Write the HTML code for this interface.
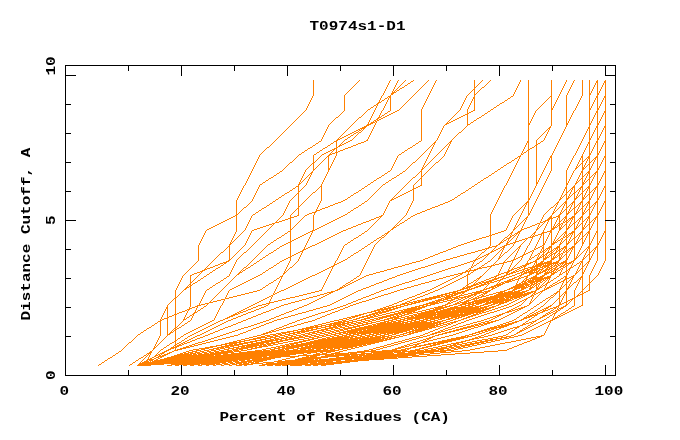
<!DOCTYPE html>
<html><head><meta charset="utf-8"><title>T0974s1-D1</title>
<style>
html,body{margin:0;padding:0;background:#fff;}
body{width:680px;height:440px;overflow:hidden;position:relative;font-family:"Liberation Mono",monospace;}
svg{position:absolute;left:0;top:0;}
.t{position:absolute;left:0;top:0;font-family:"Liberation Mono",monospace;font-weight:bold;font-size:16px;color:#000;white-space:pre;line-height:16px;height:16px;transform-origin:0 0;}
#txt{position:absolute;left:0;top:0;width:680px;height:440px;will-change:transform;}
</style></head><body>
<svg width="680" height="440" viewBox="0 0 680 440">
<rect x="0" y="0" width="680" height="440" fill="#fff"/>
<g fill="none" stroke="#ff8000" stroke-width="1" shape-rendering="crispEdges">
<path d="M313 80.5h1M359 80.5h1M390 80.5h1M398 80.5h1M405 80.5h1M413 80.5h1M428 80.5h1M436 80.5h1M474 80.5h1M482 80.5h1M490 80.5h1M520 80.5h1M528 80.5h1M551 80.5h1M566 80.5h1M574 80.5h1M582 80.5h1M589 80.5h1M597 80.5h1M605 80.5h1M313 81.5h1M358 81.5h1M389 81.5h1M397 81.5h1M404 81.5h1M411 81.5h2M427 81.5h1M435 81.5h1M474 81.5h1M481 81.5h1M489 81.5h1M520 81.5h1M528 81.5h1M551 81.5h1M566 81.5h1M573 81.5h1M582 81.5h1M589 81.5h1M596 81.5h2M604 81.5h2M313 82.5h1M357 82.5h1M389 82.5h1M397 82.5h1M403 82.5h1M410 82.5h1M426 82.5h1M435 82.5h1M474 82.5h1M480 82.5h1M488 82.5h1M519 82.5h1M528 82.5h1M551 82.5h1M565 82.5h1M573 82.5h1M582 82.5h1M589 82.5h1M596 82.5h2M604 82.5h2M313 83.5h1M356 83.5h1M388 83.5h1M396 83.5h1M402 83.5h1M408 83.5h2M425 83.5h1M434 83.5h1M474 83.5h1M479 83.5h1M487 83.5h1M519 83.5h1M528 83.5h1M551 83.5h1M565 83.5h1M572 83.5h1M582 83.5h1M589 83.5h1M595 83.5h1M597 83.5h1M603 83.5h1M605 83.5h1M313 84.5h1M355 84.5h1M388 84.5h1M396 84.5h1M401 84.5h1M407 84.5h1M424 84.5h1M434 84.5h1M474 84.5h1M478 84.5h1M486 84.5h1M518 84.5h1M528 84.5h1M551 84.5h1M564 84.5h1M572 84.5h1M582 84.5h1M589 84.5h1M595 84.5h1M597 84.5h1M603 84.5h1M605 84.5h1M313 85.5h1M354 85.5h1M387 85.5h1M395 85.5h1M400 85.5h1M405 85.5h2M423 85.5h1M433 85.5h1M474 85.5h1M477 85.5h1M485 85.5h1M518 85.5h1M528 85.5h1M551 85.5h1M564 85.5h1M571 85.5h1M582 85.5h1M589 85.5h1M594 85.5h1M597 85.5h1M602 85.5h1M605 85.5h1M313 86.5h1M353 86.5h1M387 86.5h1M395 86.5h1M399 86.5h1M404 86.5h1M422 86.5h1M433 86.5h1M474 86.5h1M476 86.5h1M484 86.5h1M517 86.5h1M528 86.5h1M551 86.5h1M563 86.5h1M571 86.5h1M582 86.5h1M589 86.5h1M594 86.5h1M597 86.5h1M602 86.5h1M605 86.5h1M313 87.5h1M352 87.5h1M386 87.5h1M394 87.5h1M398 87.5h1M402 87.5h2M421 87.5h1M432 87.5h1M474 87.5h2M482 87.5h2M517 87.5h1M528 87.5h1M551 87.5h1M563 87.5h1M570 87.5h1M582 87.5h1M589 87.5h1M593 87.5h1M597 87.5h1M601 87.5h1M605 87.5h1M313 88.5h1M351 88.5h1M386 88.5h1M394 88.5h1M397 88.5h1M400 88.5h2M420 88.5h1M432 88.5h1M474 88.5h1M481 88.5h1M516 88.5h1M528 88.5h1M551 88.5h1M562 88.5h1M570 88.5h1M582 88.5h1M589 88.5h1M593 88.5h1M597 88.5h1M601 88.5h1M605 88.5h1M313 89.5h1M350 89.5h1M385 89.5h1M393 89.5h1M396 89.5h1M399 89.5h1M419 89.5h1M431 89.5h1M473 89.5h2M480 89.5h1M516 89.5h1M528 89.5h1M551 89.5h1M562 89.5h1M569 89.5h1M582 89.5h1M589 89.5h1M592 89.5h1M597 89.5h1M600 89.5h1M605 89.5h1M313 90.5h1M349 90.5h1M385 90.5h1M393 90.5h1M395 90.5h1M397 90.5h2M418 90.5h1M431 90.5h1M472 90.5h1M474 90.5h1M479 90.5h1M515 90.5h1M528 90.5h1M551 90.5h1M561 90.5h1M569 90.5h1M582 90.5h1M589 90.5h1M592 90.5h1M597 90.5h1M600 90.5h1M605 90.5h1M313 91.5h1M348 91.5h1M384 91.5h1M392 91.5h1M394 91.5h1M396 91.5h1M417 91.5h1M430 91.5h1M471 91.5h1M474 91.5h1M478 91.5h1M515 91.5h1M528 91.5h1M551 91.5h1M561 91.5h1M568 91.5h1M582 91.5h1M589 91.5h1M591 91.5h1M597 91.5h1M599 91.5h1M605 91.5h1M313 92.5h1M347 92.5h1M384 92.5h1M392 92.5h4M416 92.5h1M430 92.5h1M470 92.5h1M474 92.5h1M477 92.5h1M514 92.5h1M528 92.5h1M551 92.5h1M560 92.5h1M568 92.5h1M582 92.5h1M589 92.5h1M591 92.5h1M597 92.5h1M599 92.5h1M605 92.5h1M313 93.5h1M346 93.5h1M383 93.5h1M391 93.5h3M415 93.5h1M429 93.5h1M469 93.5h1M474 93.5h1M476 93.5h1M514 93.5h1M528 93.5h1M551 93.5h1M560 93.5h1M567 93.5h1M582 93.5h1M589 93.5h2M597 93.5h2M605 93.5h1M313 94.5h1M345 94.5h1M383 94.5h1M391 94.5h2M414 94.5h1M429 94.5h1M468 94.5h1M474 94.5h2M513 94.5h1M528 94.5h1M551 94.5h1M559 94.5h1M567 94.5h1M582 94.5h1M589 94.5h2M597 94.5h2M605 94.5h1M313 95.5h1M344 95.5h1M382 95.5h1M390 95.5h1M413 95.5h1M428 95.5h1M467 95.5h1M474 95.5h1M513 95.5h1M528 95.5h1M551 95.5h1M559 95.5h1M566 95.5h1M582 95.5h1M589 95.5h1M597 95.5h1M605 95.5h1M312 96.5h1M344 96.5h1M381 96.5h1M388 96.5h3M412 96.5h1M428 96.5h1M466 96.5h1M474 96.5h1M511 96.5h2M528 96.5h1M550 96.5h2M558 96.5h1M566 96.5h1M581 96.5h1M589 96.5h1M596 96.5h2M604 96.5h2M312 97.5h1M344 97.5h1M381 97.5h1M387 97.5h1M389 97.5h2M411 97.5h1M427 97.5h1M466 97.5h1M473 97.5h2M510 97.5h1M528 97.5h1M549 97.5h1M551 97.5h1M558 97.5h1M566 97.5h1M581 97.5h1M589 97.5h1M596 97.5h2M604 97.5h2M311 98.5h1M344 98.5h1M380 98.5h1M385 98.5h2M388 98.5h1M390 98.5h1M410 98.5h1M427 98.5h1M465 98.5h1M473 98.5h2M508 98.5h2M528 98.5h1M548 98.5h1M551 98.5h1M557 98.5h1M566 98.5h1M580 98.5h1M589 98.5h1M595 98.5h1M597 98.5h1M603 98.5h1M605 98.5h1M311 99.5h1M344 99.5h1M380 99.5h1M384 99.5h1M388 99.5h1M390 99.5h1M409 99.5h1M426 99.5h1M465 99.5h1M472 99.5h1M474 99.5h1M507 99.5h1M528 99.5h1M547 99.5h1M551 99.5h1M557 99.5h1M566 99.5h1M580 99.5h1M589 99.5h1M595 99.5h1M597 99.5h1M603 99.5h1M605 99.5h1M310 100.5h1M344 100.5h1M379 100.5h1M382 100.5h2M387 100.5h1M390 100.5h1M408 100.5h1M426 100.5h1M464 100.5h1M472 100.5h1M474 100.5h1M505 100.5h2M528 100.5h1M546 100.5h1M551 100.5h1M556 100.5h1M566 100.5h1M579 100.5h1M589 100.5h1M594 100.5h1M597 100.5h1M602 100.5h1M605 100.5h1M310 101.5h1M344 101.5h1M379 101.5h1M381 101.5h1M387 101.5h1M390 101.5h1M407 101.5h1M425 101.5h1M464 101.5h1M471 101.5h1M474 101.5h1M504 101.5h1M528 101.5h1M545 101.5h1M551 101.5h1M556 101.5h1M566 101.5h1M579 101.5h1M589 101.5h1M594 101.5h1M597 101.5h1M602 101.5h1M605 101.5h1M309 102.5h1M344 102.5h1M378 102.5h3M386 102.5h1M390 102.5h1M406 102.5h1M425 102.5h1M463 102.5h1M471 102.5h1M474 102.5h1M502 102.5h2M528 102.5h1M544 102.5h1M551 102.5h1M555 102.5h1M566 102.5h1M578 102.5h1M589 102.5h1M593 102.5h1M597 102.5h1M601 102.5h1M605 102.5h1M309 103.5h1M344 103.5h1M377 103.5h2M386 103.5h1M390 103.5h1M405 103.5h1M424 103.5h1M463 103.5h1M470 103.5h1M474 103.5h1M500 103.5h2M528 103.5h1M543 103.5h1M551 103.5h1M555 103.5h1M566 103.5h1M578 103.5h1M589 103.5h1M593 103.5h1M597 103.5h1M601 103.5h1M605 103.5h1M308 104.5h1M344 104.5h1M376 104.5h2M385 104.5h1M390 104.5h1M404 104.5h1M424 104.5h1M462 104.5h1M470 104.5h1M474 104.5h1M499 104.5h1M528 104.5h1M542 104.5h1M551 104.5h1M554 104.5h1M566 104.5h1M577 104.5h1M589 104.5h1M592 104.5h1M597 104.5h1M600 104.5h1M605 104.5h1M308 105.5h1M344 105.5h1M374 105.5h2M377 105.5h1M385 105.5h1M390 105.5h1M403 105.5h1M423 105.5h1M462 105.5h1M469 105.5h1M474 105.5h1M497 105.5h2M528 105.5h1M541 105.5h1M551 105.5h1M554 105.5h1M566 105.5h1M577 105.5h1M589 105.5h1M592 105.5h1M597 105.5h1M600 105.5h1M605 105.5h1M307 106.5h1M344 106.5h1M373 106.5h1M376 106.5h1M384 106.5h1M390 106.5h1M402 106.5h1M423 106.5h1M461 106.5h1M469 106.5h1M474 106.5h1M496 106.5h1M528 106.5h1M540 106.5h1M551 106.5h1M553 106.5h1M566 106.5h1M576 106.5h1M589 106.5h1M591 106.5h1M597 106.5h1M599 106.5h1M605 106.5h1M307 107.5h1M344 107.5h1M371 107.5h2M376 107.5h1M384 107.5h1M390 107.5h1M401 107.5h1M422 107.5h1M461 107.5h1M468 107.5h1M474 107.5h1M494 107.5h2M528 107.5h1M539 107.5h1M551 107.5h1M553 107.5h1M566 107.5h1M576 107.5h1M589 107.5h1M591 107.5h1M597 107.5h1M599 107.5h1M605 107.5h1M306 108.5h1M344 108.5h1M370 108.5h1M375 108.5h1M383 108.5h1M390 108.5h1M400 108.5h1M422 108.5h1M460 108.5h1M468 108.5h1M474 108.5h1M493 108.5h1M528 108.5h1M538 108.5h1M551 108.5h2M566 108.5h1M575 108.5h1M589 108.5h2M597 108.5h2M605 108.5h1M306 109.5h1M344 109.5h1M368 109.5h2M375 109.5h1M383 109.5h1M390 109.5h1M399 109.5h1M421 109.5h1M460 109.5h1M467 109.5h1M474 109.5h1M491 109.5h2M528 109.5h1M537 109.5h1M551 109.5h2M566 109.5h1M575 109.5h1M589 109.5h2M597 109.5h2M605 109.5h1M305 110.5h1M344 110.5h1M367 110.5h1M374 110.5h1M382 110.5h1M390 110.5h1M397 110.5h2M421 110.5h1M459 110.5h1M467 110.5h1M473 110.5h2M490 110.5h1M528 110.5h1M536 110.5h1M551 110.5h1M566 110.5h1M574 110.5h1M589 110.5h1M597 110.5h1M605 110.5h1M304 111.5h1M343 111.5h1M366 111.5h1M374 111.5h1M381 111.5h1M388 111.5h2M395 111.5h2M421 111.5h1M458 111.5h1M467 111.5h1M471 111.5h2M488 111.5h2M528 111.5h1M535 111.5h1M551 111.5h1M566 111.5h1M573 111.5h1M589 111.5h1M596 111.5h2M604 111.5h2M303 112.5h1M342 112.5h1M365 112.5h1M373 112.5h1M381 112.5h1M387 112.5h1M393 112.5h2M421 112.5h1M457 112.5h1M467 112.5h1M469 112.5h2M487 112.5h1M528 112.5h1M535 112.5h1M551 112.5h1M566 112.5h1M573 112.5h1M589 112.5h1M596 112.5h2M604 112.5h2M302 113.5h1M341 113.5h1M364 113.5h1M373 113.5h1M380 113.5h1M385 113.5h2M391 113.5h2M421 113.5h1M456 113.5h1M467 113.5h2M485 113.5h2M528 113.5h1M534 113.5h1M551 113.5h1M566 113.5h1M572 113.5h1M589 113.5h1M595 113.5h1M597 113.5h1M603 113.5h1M605 113.5h1M301 114.5h1M340 114.5h1M363 114.5h1M372 114.5h1M380 114.5h1M384 114.5h1M389 114.5h2M421 114.5h1M455 114.5h1M465 114.5h3M484 114.5h1M528 114.5h1M534 114.5h1M551 114.5h1M566 114.5h1M572 114.5h1M589 114.5h1M595 114.5h1M597 114.5h1M603 114.5h1M605 114.5h1M300 115.5h1M339 115.5h1M362 115.5h1M372 115.5h1M379 115.5h1M382 115.5h2M387 115.5h2M421 115.5h1M454 115.5h1M463 115.5h2M467 115.5h1M482 115.5h2M528 115.5h1M533 115.5h1M551 115.5h1M566 115.5h1M571 115.5h1M589 115.5h1M594 115.5h1M597 115.5h1M602 115.5h1M605 115.5h1M299 116.5h1M338 116.5h1M361 116.5h1M371 116.5h1M379 116.5h1M381 116.5h1M385 116.5h2M421 116.5h1M453 116.5h1M461 116.5h2M467 116.5h1M481 116.5h1M528 116.5h1M533 116.5h1M551 116.5h1M566 116.5h1M571 116.5h1M589 116.5h1M594 116.5h1M597 116.5h1M602 116.5h1M605 116.5h1M298 117.5h1M336 117.5h2M359 117.5h2M371 117.5h1M378 117.5h3M383 117.5h2M421 117.5h1M452 117.5h1M459 117.5h2M467 117.5h1M479 117.5h2M528 117.5h1M532 117.5h1M551 117.5h1M566 117.5h1M570 117.5h1M589 117.5h1M593 117.5h1M597 117.5h1M601 117.5h1M605 117.5h1M297 118.5h1M335 118.5h1M358 118.5h1M370 118.5h1M377 118.5h2M381 118.5h2M421 118.5h1M451 118.5h1M457 118.5h2M467 118.5h1M477 118.5h2M528 118.5h1M532 118.5h1M551 118.5h1M566 118.5h1M570 118.5h1M589 118.5h1M593 118.5h1M597 118.5h1M601 118.5h1M605 118.5h1M296 119.5h1M334 119.5h1M357 119.5h1M370 119.5h1M376 119.5h2M379 119.5h2M421 119.5h1M450 119.5h1M455 119.5h2M467 119.5h1M476 119.5h1M528 119.5h1M531 119.5h1M551 119.5h1M566 119.5h1M569 119.5h1M589 119.5h1M592 119.5h1M597 119.5h1M600 119.5h1M605 119.5h1M295 120.5h1M333 120.5h1M356 120.5h1M369 120.5h1M374 120.5h2M377 120.5h2M421 120.5h1M449 120.5h1M453 120.5h2M467 120.5h1M474 120.5h2M528 120.5h1M531 120.5h1M551 120.5h1M566 120.5h1M569 120.5h1M589 120.5h1M592 120.5h1M597 120.5h1M600 120.5h1M605 120.5h1M294 121.5h1M332 121.5h1M355 121.5h1M369 121.5h1M373 121.5h1M375 121.5h2M421 121.5h1M448 121.5h1M451 121.5h2M467 121.5h1M473 121.5h1M528 121.5h1M530 121.5h1M551 121.5h1M566 121.5h1M568 121.5h1M589 121.5h1M591 121.5h1M597 121.5h1M599 121.5h1M605 121.5h1M293 122.5h1M331 122.5h1M354 122.5h1M368 122.5h1M371 122.5h4M376 122.5h1M421 122.5h1M447 122.5h1M449 122.5h2M467 122.5h1M471 122.5h2M528 122.5h1M530 122.5h1M551 122.5h1M566 122.5h1M568 122.5h1M589 122.5h1M591 122.5h1M597 122.5h1M599 122.5h1M605 122.5h1M292 123.5h1M330 123.5h1M353 123.5h1M368 123.5h1M370 123.5h3M375 123.5h1M421 123.5h1M446 123.5h3M467 123.5h1M470 123.5h1M528 123.5h2M551 123.5h1M566 123.5h2M589 123.5h2M597 123.5h2M605 123.5h1M291 124.5h1M329 124.5h1M352 124.5h1M367 124.5h4M375 124.5h1M421 124.5h1M445 124.5h2M467 124.5h3M528 124.5h2M551 124.5h1M566 124.5h2M589 124.5h2M597 124.5h2M605 124.5h1M290 125.5h1M328 125.5h1M351 125.5h1M366 125.5h3M374 125.5h1M421 125.5h1M444 125.5h1M467 125.5h1M528 125.5h1M551 125.5h1M566 125.5h1M589 125.5h1M597 125.5h1M605 125.5h1M289 126.5h1M328 126.5h1M350 126.5h1M364 126.5h3M374 126.5h1M421 126.5h1M443 126.5h1M466 126.5h1M528 126.5h1M550 126.5h1M566 126.5h1M589 126.5h1M596 126.5h2M604 126.5h2M288 127.5h1M327 127.5h1M349 127.5h1M362 127.5h4M373 127.5h1M421 127.5h1M443 127.5h1M465 127.5h1M528 127.5h1M549 127.5h2M565 127.5h1M588 127.5h2M596 127.5h2M604 127.5h2M287 128.5h1M327 128.5h1M348 128.5h1M360 128.5h5M373 128.5h1M421 128.5h1M442 128.5h1M464 128.5h1M528 128.5h1M548 128.5h2M565 128.5h1M588 128.5h2M595 128.5h1M597 128.5h1M603 128.5h1M605 128.5h1M286 129.5h1M326 129.5h1M347 129.5h1M358 129.5h2M361 129.5h1M363 129.5h1M372 129.5h1M421 129.5h1M442 129.5h1M463 129.5h1M528 129.5h1M547 129.5h1M549 129.5h1M564 129.5h1M587 129.5h1M589 129.5h1M595 129.5h1M597 129.5h1M603 129.5h1M605 129.5h1M285 130.5h1M326 130.5h1M346 130.5h1M356 130.5h2M359 130.5h2M362 130.5h1M372 130.5h1M421 130.5h1M441 130.5h1M462 130.5h1M528 130.5h1M546 130.5h1M548 130.5h1M564 130.5h1M587 130.5h1M589 130.5h1M594 130.5h1M597 130.5h1M602 130.5h1M605 130.5h1M284 131.5h1M325 131.5h1M345 131.5h1M354 131.5h2M358 131.5h1M361 131.5h1M371 131.5h1M421 131.5h1M441 131.5h1M461 131.5h1M528 131.5h1M545 131.5h1M548 131.5h1M563 131.5h1M586 131.5h1M589 131.5h1M594 131.5h1M597 131.5h1M602 131.5h1M605 131.5h1M283 132.5h1M325 132.5h1M344 132.5h1M352 132.5h2M356 132.5h2M359 132.5h2M371 132.5h1M421 132.5h1M440 132.5h1M459 132.5h2M528 132.5h1M544 132.5h1M547 132.5h1M563 132.5h1M586 132.5h1M589 132.5h1M593 132.5h1M597 132.5h1M601 132.5h1M605 132.5h1M282 133.5h1M324 133.5h1M343 133.5h1M350 133.5h2M354 133.5h2M358 133.5h1M370 133.5h1M421 133.5h1M440 133.5h1M458 133.5h1M528 133.5h1M543 133.5h1M547 133.5h1M562 133.5h1M585 133.5h1M589 133.5h1M593 133.5h1M597 133.5h1M601 133.5h1M605 133.5h1M281 134.5h1M324 134.5h1M342 134.5h1M348 134.5h2M353 134.5h1M357 134.5h1M370 134.5h1M421 134.5h1M439 134.5h1M457 134.5h1M528 134.5h1M542 134.5h1M546 134.5h1M562 134.5h1M585 134.5h1M589 134.5h1M592 134.5h1M597 134.5h1M600 134.5h1M605 134.5h1M280 135.5h1M323 135.5h1M341 135.5h1M346 135.5h2M351 135.5h2M356 135.5h1M369 135.5h1M421 135.5h1M439 135.5h1M456 135.5h1M528 135.5h1M541 135.5h1M546 135.5h1M561 135.5h1M584 135.5h1M589 135.5h1M592 135.5h1M597 135.5h1M600 135.5h1M605 135.5h1M279 136.5h1M323 136.5h1M340 136.5h1M344 136.5h2M350 136.5h1M355 136.5h1M369 136.5h1M421 136.5h1M438 136.5h1M455 136.5h1M528 136.5h1M540 136.5h1M545 136.5h1M561 136.5h1M584 136.5h1M589 136.5h1M591 136.5h1M597 136.5h1M599 136.5h1M605 136.5h1M278 137.5h1M322 137.5h1M339 137.5h1M342 137.5h2M348 137.5h2M354 137.5h1M368 137.5h1M421 137.5h1M438 137.5h1M454 137.5h1M528 137.5h1M539 137.5h1M545 137.5h1M560 137.5h1M583 137.5h1M589 137.5h1M591 137.5h1M597 137.5h1M599 137.5h1M605 137.5h1M277 138.5h1M322 138.5h1M338 138.5h1M340 138.5h2M347 138.5h1M353 138.5h1M368 138.5h1M421 138.5h1M437 138.5h1M453 138.5h1M528 138.5h1M538 138.5h1M544 138.5h1M560 138.5h1M583 138.5h1M589 138.5h2M597 138.5h2M605 138.5h1M276 139.5h1M321 139.5h1M337 139.5h3M345 139.5h2M352 139.5h1M367 139.5h1M421 139.5h1M437 139.5h1M452 139.5h1M528 139.5h1M537 139.5h1M544 139.5h1M559 139.5h1M582 139.5h1M589 139.5h2M597 139.5h2M605 139.5h1M275 140.5h1M321 140.5h1M336 140.5h2M344 140.5h1M350 140.5h2M366 140.5h2M421 140.5h1M436 140.5h1M451 140.5h1M528 140.5h1M536 140.5h1M543 140.5h1M559 140.5h1M582 140.5h1M589 140.5h1M597 140.5h1M605 140.5h1M274 141.5h1M319 141.5h2M334 141.5h3M343 141.5h1M348 141.5h2M364 141.5h2M419 141.5h2M435 141.5h1M450 141.5h2M527 141.5h2M536 141.5h1M541 141.5h2M558 141.5h1M581 141.5h1M589 141.5h1M596 141.5h2M604 141.5h2M273 142.5h1M318 142.5h1M333 142.5h1M336 142.5h1M342 142.5h1M346 142.5h2M361 142.5h3M418 142.5h1M434 142.5h2M449 142.5h2M527 142.5h2M536 142.5h1M540 142.5h1M558 142.5h1M581 142.5h1M588 142.5h2M596 142.5h2M604 142.5h2M272 143.5h1M316 143.5h2M331 143.5h2M336 143.5h1M341 143.5h1M344 143.5h2M358 143.5h3M416 143.5h2M433 143.5h2M448 143.5h1M450 143.5h1M526 143.5h1M528 143.5h1M536 143.5h1M538 143.5h2M557 143.5h1M580 143.5h1M588 143.5h2M595 143.5h1M597 143.5h1M603 143.5h1M605 143.5h1M271 144.5h1M315 144.5h1M330 144.5h1M336 144.5h1M340 144.5h1M342 144.5h2M356 144.5h2M415 144.5h1M432 144.5h1M434 144.5h1M447 144.5h1M449 144.5h1M526 144.5h1M528 144.5h1M536 144.5h2M557 144.5h1M580 144.5h1M587 144.5h1M589 144.5h1M595 144.5h1M597 144.5h1M603 144.5h1M605 144.5h1M270 145.5h1M313 145.5h2M328 145.5h2M336 145.5h1M339 145.5h3M353 145.5h3M413 145.5h2M431 145.5h1M433 145.5h1M446 145.5h1M449 145.5h1M525 145.5h1M528 145.5h1M535 145.5h2M556 145.5h1M579 145.5h1M587 145.5h1M589 145.5h1M594 145.5h1M597 145.5h1M602 145.5h1M605 145.5h1M269 146.5h1M312 146.5h1M327 146.5h1M336 146.5h1M338 146.5h2M351 146.5h2M412 146.5h1M430 146.5h1M433 146.5h1M445 146.5h1M448 146.5h1M525 146.5h1M528 146.5h1M534 146.5h1M536 146.5h1M556 146.5h1M579 146.5h1M586 146.5h1M589 146.5h1M594 146.5h1M597 146.5h1M602 146.5h1M605 146.5h1M267 147.5h2M310 147.5h2M325 147.5h2M336 147.5h2M348 147.5h3M410 147.5h2M429 147.5h1M432 147.5h1M444 147.5h1M448 147.5h1M524 147.5h1M528 147.5h1M532 147.5h2M536 147.5h1M555 147.5h1M578 147.5h1M586 147.5h1M589 147.5h1M593 147.5h1M597 147.5h1M601 147.5h1M605 147.5h1M266 148.5h1M308 148.5h2M323 148.5h2M334 148.5h3M345 148.5h3M408 148.5h2M428 148.5h1M432 148.5h1M443 148.5h1M447 148.5h1M524 148.5h1M528 148.5h1M530 148.5h2M536 148.5h1M555 148.5h1M578 148.5h1M585 148.5h1M589 148.5h1M593 148.5h1M597 148.5h1M601 148.5h1M605 148.5h1M265 149.5h1M307 149.5h1M322 149.5h1M332 149.5h3M336 149.5h1M343 149.5h2M407 149.5h1M427 149.5h1M431 149.5h1M442 149.5h1M447 149.5h1M523 149.5h1M528 149.5h2M536 149.5h1M554 149.5h1M577 149.5h1M585 149.5h1M589 149.5h1M592 149.5h1M597 149.5h1M600 149.5h1M605 149.5h1M264 150.5h1M305 150.5h2M320 150.5h2M330 150.5h2M333 150.5h1M336 150.5h1M340 150.5h3M405 150.5h2M426 150.5h1M431 150.5h1M441 150.5h1M446 150.5h1M523 150.5h1M527 150.5h2M536 150.5h1M554 150.5h1M577 150.5h1M584 150.5h1M589 150.5h1M592 150.5h1M597 150.5h1M600 150.5h1M605 150.5h1M263 151.5h1M304 151.5h1M319 151.5h1M328 151.5h2M332 151.5h1M336 151.5h1M338 151.5h2M404 151.5h1M425 151.5h1M430 151.5h1M440 151.5h1M446 151.5h1M522 151.5h1M526 151.5h1M528 151.5h1M536 151.5h1M553 151.5h1M576 151.5h1M584 151.5h1M589 151.5h1M591 151.5h1M597 151.5h1M599 151.5h1M605 151.5h1M262 152.5h1M302 152.5h2M317 152.5h2M326 152.5h2M331 152.5h1M335 152.5h3M402 152.5h2M424 152.5h1M430 152.5h1M439 152.5h1M445 152.5h1M522 152.5h1M524 152.5h2M528 152.5h1M536 152.5h1M553 152.5h1M576 152.5h1M583 152.5h1M589 152.5h1M591 152.5h1M597 152.5h1M599 152.5h1M605 152.5h1M261 153.5h1M301 153.5h1M316 153.5h1M324 153.5h2M330 153.5h1M332 153.5h3M336 153.5h1M401 153.5h1M423 153.5h1M429 153.5h1M438 153.5h1M445 153.5h1M521 153.5h1M523 153.5h1M528 153.5h1M536 153.5h1M552 153.5h1M575 153.5h1M583 153.5h1M589 153.5h2M597 153.5h2M605 153.5h1M260 154.5h1M299 154.5h2M314 154.5h2M322 154.5h2M329 154.5h3M336 154.5h1M399 154.5h2M422 154.5h1M429 154.5h1M437 154.5h1M444 154.5h1M521 154.5h2M528 154.5h1M536 154.5h1M552 154.5h1M575 154.5h1M582 154.5h1M589 154.5h2M597 154.5h2M605 154.5h1M259 155.5h1M298 155.5h1M313 155.5h1M321 155.5h1M328 155.5h2M336 155.5h1M398 155.5h1M421 155.5h1M428 155.5h1M436 155.5h1M444 155.5h1M520 155.5h1M528 155.5h1M536 155.5h1M551 155.5h1M574 155.5h1M582 155.5h1M589 155.5h1M597 155.5h1M605 155.5h1M259 156.5h1M297 156.5h1M313 156.5h1M320 156.5h1M327 156.5h2M335 156.5h1M397 156.5h1M420 156.5h1M428 156.5h1M435 156.5h1M443 156.5h1M518 156.5h3M528 156.5h1M536 156.5h1M550 156.5h2M573 156.5h1M581 156.5h2M588 156.5h2M596 156.5h2M604 156.5h2M258 157.5h1M296 157.5h1M313 157.5h1M319 157.5h1M326 157.5h1M328 157.5h1M335 157.5h1M397 157.5h1M419 157.5h1M427 157.5h1M434 157.5h1M442 157.5h1M517 157.5h1M519 157.5h1M528 157.5h1M536 157.5h1M550 157.5h2M573 157.5h1M581 157.5h2M587 157.5h3M595 157.5h3M604 157.5h2M258 158.5h1M295 158.5h1M313 158.5h1M318 158.5h1M325 158.5h1M328 158.5h1M334 158.5h1M396 158.5h1M418 158.5h1M427 158.5h1M433 158.5h1M441 158.5h1M515 158.5h2M519 158.5h1M528 158.5h1M536 158.5h1M549 158.5h1M551 158.5h1M572 158.5h1M580 158.5h1M582 158.5h1M586 158.5h1M588 158.5h2M594 158.5h2M597 158.5h1M603 158.5h1M605 158.5h1M257 159.5h1M294 159.5h1M313 159.5h1M317 159.5h1M324 159.5h1M328 159.5h1M334 159.5h1M396 159.5h1M417 159.5h1M426 159.5h1M432 159.5h1M440 159.5h1M514 159.5h1M518 159.5h1M528 159.5h1M536 159.5h1M549 159.5h1M551 159.5h1M572 159.5h1M580 159.5h1M582 159.5h1M585 159.5h1M587 159.5h1M589 159.5h1M593 159.5h1M595 159.5h1M597 159.5h1M603 159.5h1M605 159.5h1M257 160.5h1M293 160.5h1M313 160.5h1M316 160.5h1M323 160.5h1M328 160.5h1M333 160.5h1M395 160.5h1M416 160.5h1M426 160.5h1M431 160.5h1M439 160.5h1M512 160.5h2M518 160.5h1M528 160.5h1M536 160.5h1M548 160.5h1M551 160.5h1M571 160.5h1M579 160.5h1M582 160.5h1M584 160.5h1M587 160.5h1M589 160.5h1M592 160.5h1M594 160.5h1M597 160.5h1M602 160.5h1M605 160.5h1M256 161.5h1M292 161.5h1M313 161.5h1M315 161.5h1M322 161.5h1M328 161.5h1M333 161.5h1M395 161.5h1M415 161.5h1M425 161.5h1M430 161.5h1M438 161.5h1M511 161.5h1M517 161.5h1M528 161.5h1M536 161.5h1M548 161.5h1M551 161.5h1M571 161.5h1M579 161.5h1M582 161.5h2M586 161.5h1M589 161.5h1M591 161.5h1M594 161.5h1M597 161.5h1M602 161.5h1M605 161.5h1M256 162.5h1M290 162.5h2M313 162.5h2M321 162.5h1M328 162.5h1M332 162.5h1M394 162.5h1M413 162.5h2M425 162.5h1M429 162.5h1M436 162.5h2M509 162.5h2M517 162.5h1M528 162.5h1M536 162.5h1M547 162.5h1M551 162.5h1M570 162.5h1M578 162.5h1M582 162.5h1M586 162.5h1M589 162.5h2M593 162.5h1M597 162.5h1M601 162.5h1M605 162.5h1M255 163.5h1M289 163.5h1M312 163.5h2M320 163.5h1M328 163.5h1M332 163.5h1M394 163.5h1M412 163.5h1M424 163.5h1M428 163.5h1M435 163.5h1M507 163.5h2M516 163.5h1M528 163.5h1M536 163.5h1M547 163.5h1M551 163.5h1M570 163.5h1M578 163.5h1M581 163.5h2M585 163.5h1M589 163.5h1M593 163.5h1M597 163.5h1M601 163.5h1M605 163.5h1M255 164.5h1M288 164.5h1M311 164.5h1M313 164.5h1M319 164.5h1M328 164.5h1M331 164.5h1M393 164.5h1M411 164.5h1M424 164.5h1M427 164.5h1M434 164.5h1M506 164.5h1M516 164.5h1M528 164.5h1M536 164.5h1M546 164.5h1M551 164.5h1M569 164.5h1M577 164.5h1M580 164.5h1M582 164.5h1M585 164.5h1M588 164.5h2M592 164.5h1M597 164.5h1M600 164.5h1M605 164.5h1M254 165.5h1M287 165.5h1M310 165.5h1M313 165.5h1M318 165.5h1M328 165.5h1M331 165.5h1M393 165.5h1M410 165.5h1M423 165.5h1M426 165.5h1M433 165.5h1M504 165.5h2M515 165.5h1M528 165.5h1M536 165.5h1M546 165.5h1M551 165.5h1M569 165.5h1M577 165.5h1M579 165.5h1M582 165.5h1M584 165.5h1M587 165.5h1M589 165.5h1M592 165.5h1M597 165.5h1M600 165.5h1M605 165.5h1M254 166.5h1M286 166.5h1M309 166.5h1M313 166.5h1M317 166.5h1M328 166.5h1M330 166.5h1M392 166.5h1M409 166.5h1M423 166.5h1M425 166.5h1M432 166.5h1M503 166.5h1M515 166.5h1M528 166.5h1M536 166.5h1M545 166.5h1M551 166.5h1M568 166.5h1M576 166.5h1M578 166.5h1M582 166.5h1M584 166.5h1M586 166.5h1M589 166.5h1M591 166.5h1M597 166.5h1M599 166.5h1M605 166.5h1M253 167.5h1M285 167.5h1M308 167.5h1M313 167.5h1M316 167.5h1M328 167.5h1M330 167.5h1M392 167.5h1M408 167.5h1M422 167.5h1M424 167.5h1M431 167.5h1M501 167.5h2M514 167.5h1M528 167.5h1M536 167.5h1M545 167.5h1M551 167.5h1M568 167.5h1M576 167.5h2M582 167.5h2M585 167.5h1M589 167.5h1M591 167.5h1M597 167.5h1M599 167.5h1M605 167.5h1M253 168.5h1M284 168.5h1M307 168.5h1M313 168.5h1M315 168.5h1M328 168.5h2M391 168.5h1M407 168.5h1M422 168.5h2M430 168.5h1M500 168.5h1M514 168.5h1M528 168.5h1M536 168.5h1M544 168.5h1M551 168.5h1M567 168.5h1M575 168.5h2M582 168.5h3M589 168.5h2M597 168.5h2M605 168.5h1M252 169.5h1M283 169.5h1M306 169.5h1M313 169.5h2M328 169.5h2M391 169.5h1M406 169.5h1M421 169.5h2M429 169.5h1M498 169.5h2M513 169.5h1M528 169.5h1M536 169.5h1M544 169.5h1M551 169.5h1M567 169.5h1M575 169.5h1M582 169.5h2M589 169.5h2M597 169.5h2M605 169.5h1M252 170.5h1M282 170.5h1M305 170.5h1M313 170.5h1M328 170.5h1M390 170.5h1M405 170.5h1M421 170.5h1M428 170.5h1M497 170.5h1M513 170.5h1M528 170.5h1M536 170.5h1M543 170.5h1M551 170.5h1M566 170.5h1M574 170.5h1M582 170.5h1M589 170.5h1M597 170.5h1M605 170.5h1M251 171.5h1M280 171.5h2M305 171.5h1M312 171.5h1M328 171.5h1M388 171.5h2M403 171.5h2M420 171.5h2M427 171.5h1M495 171.5h2M512 171.5h1M528 171.5h1M536 171.5h1M543 171.5h1M550 171.5h1M566 171.5h1M573 171.5h1M581 171.5h2M588 171.5h2M596 171.5h2M604 171.5h2M251 172.5h1M279 172.5h1M304 172.5h1M311 172.5h2M327 172.5h1M387 172.5h1M402 172.5h1M419 172.5h1M421 172.5h1M426 172.5h1M494 172.5h1M512 172.5h1M528 172.5h1M536 172.5h1M542 172.5h1M550 172.5h1M566 172.5h1M573 172.5h1M581 172.5h2M587 172.5h3M595 172.5h3M604 172.5h2M250 173.5h1M277 173.5h2M304 173.5h1M310 173.5h2M327 173.5h1M385 173.5h2M400 173.5h2M418 173.5h1M421 173.5h1M425 173.5h1M492 173.5h2M511 173.5h1M528 173.5h1M536 173.5h1M542 173.5h1M549 173.5h1M566 173.5h1M572 173.5h1M580 173.5h1M582 173.5h1M586 173.5h1M588 173.5h2M594 173.5h2M597 173.5h1M603 173.5h1M605 173.5h1M250 174.5h1M276 174.5h1M303 174.5h1M309 174.5h1M311 174.5h1M326 174.5h1M384 174.5h1M399 174.5h1M417 174.5h1M421 174.5h1M424 174.5h1M491 174.5h1M511 174.5h1M528 174.5h1M536 174.5h1M541 174.5h1M549 174.5h1M566 174.5h1M572 174.5h1M580 174.5h1M582 174.5h1M585 174.5h1M587 174.5h1M589 174.5h1M593 174.5h1M595 174.5h1M597 174.5h1M603 174.5h1M605 174.5h1M249 175.5h1M274 175.5h2M303 175.5h1M308 175.5h1M310 175.5h1M326 175.5h1M382 175.5h2M397 175.5h2M416 175.5h1M421 175.5h1M423 175.5h1M489 175.5h2M510 175.5h1M528 175.5h1M536 175.5h1M541 175.5h1M548 175.5h1M566 175.5h1M571 175.5h1M579 175.5h1M582 175.5h1M584 175.5h1M587 175.5h1M589 175.5h1M592 175.5h1M594 175.5h1M597 175.5h1M602 175.5h1M605 175.5h1M249 176.5h1M273 176.5h1M302 176.5h1M307 176.5h1M310 176.5h1M325 176.5h1M381 176.5h1M396 176.5h1M415 176.5h1M421 176.5h2M488 176.5h1M510 176.5h1M528 176.5h1M536 176.5h1M540 176.5h1M548 176.5h1M566 176.5h1M571 176.5h1M579 176.5h1M582 176.5h2M586 176.5h1M589 176.5h1M591 176.5h1M594 176.5h1M597 176.5h1M602 176.5h1M605 176.5h1M248 177.5h1M271 177.5h2M302 177.5h1M306 177.5h1M309 177.5h1M325 177.5h1M379 177.5h2M394 177.5h2M413 177.5h2M421 177.5h1M486 177.5h2M509 177.5h1M528 177.5h1M536 177.5h1M540 177.5h1M547 177.5h1M566 177.5h1M570 177.5h1M578 177.5h1M582 177.5h1M586 177.5h1M589 177.5h2M593 177.5h1M597 177.5h1M601 177.5h1M605 177.5h1M248 178.5h1M269 178.5h2M301 178.5h1M305 178.5h1M309 178.5h1M324 178.5h1M377 178.5h2M392 178.5h2M412 178.5h1M420 178.5h2M484 178.5h2M509 178.5h1M528 178.5h1M536 178.5h1M539 178.5h1M547 178.5h1M566 178.5h1M570 178.5h1M578 178.5h1M581 178.5h2M585 178.5h1M589 178.5h1M593 178.5h1M597 178.5h1M601 178.5h1M605 178.5h1M247 179.5h1M268 179.5h1M301 179.5h1M304 179.5h1M308 179.5h1M324 179.5h1M376 179.5h1M391 179.5h1M411 179.5h1M419 179.5h1M421 179.5h1M483 179.5h1M508 179.5h1M528 179.5h1M536 179.5h1M539 179.5h1M546 179.5h1M566 179.5h1M569 179.5h1M577 179.5h1M580 179.5h1M582 179.5h1M585 179.5h1M588 179.5h2M592 179.5h1M597 179.5h1M600 179.5h1M605 179.5h1M247 180.5h1M266 180.5h2M300 180.5h1M303 180.5h1M308 180.5h1M323 180.5h1M374 180.5h2M389 180.5h2M410 180.5h1M418 180.5h1M421 180.5h1M481 180.5h2M508 180.5h1M528 180.5h1M536 180.5h1M538 180.5h1M546 180.5h1M566 180.5h1M569 180.5h1M577 180.5h1M579 180.5h1M582 180.5h1M584 180.5h1M587 180.5h1M589 180.5h1M592 180.5h1M597 180.5h1M600 180.5h1M605 180.5h1M246 181.5h1M265 181.5h1M300 181.5h1M302 181.5h1M307 181.5h1M323 181.5h1M373 181.5h1M388 181.5h1M409 181.5h1M417 181.5h1M421 181.5h1M480 181.5h1M507 181.5h1M528 181.5h1M536 181.5h1M538 181.5h1M545 181.5h1M566 181.5h1M568 181.5h1M576 181.5h1M578 181.5h1M582 181.5h1M584 181.5h1M586 181.5h1M589 181.5h1M591 181.5h1M597 181.5h1M599 181.5h1M605 181.5h1M246 182.5h1M263 182.5h2M299 182.5h1M301 182.5h1M307 182.5h1M322 182.5h1M371 182.5h2M386 182.5h2M408 182.5h1M416 182.5h1M421 182.5h1M478 182.5h2M507 182.5h1M528 182.5h1M536 182.5h2M545 182.5h1M566 182.5h1M568 182.5h1M576 182.5h2M582 182.5h2M585 182.5h1M589 182.5h1M591 182.5h1M597 182.5h1M599 182.5h1M605 182.5h1M245 183.5h1M262 183.5h1M299 183.5h2M306 183.5h1M322 183.5h1M370 183.5h1M385 183.5h1M407 183.5h1M415 183.5h1M421 183.5h1M477 183.5h1M506 183.5h1M528 183.5h1M536 183.5h2M544 183.5h1M566 183.5h2M575 183.5h2M582 183.5h3M589 183.5h2M597 183.5h2M605 183.5h1M245 184.5h1M260 184.5h2M298 184.5h2M306 184.5h1M321 184.5h1M368 184.5h2M383 184.5h2M406 184.5h1M414 184.5h1M421 184.5h1M475 184.5h2M506 184.5h1M528 184.5h1M536 184.5h1M544 184.5h1M566 184.5h2M575 184.5h1M582 184.5h2M589 184.5h2M597 184.5h2M605 184.5h1M244 185.5h1M259 185.5h1M298 185.5h1M305 185.5h1M321 185.5h1M367 185.5h1M382 185.5h1M405 185.5h1M413 185.5h1M420 185.5h2M474 185.5h1M505 185.5h1M528 185.5h1M536 185.5h1M543 185.5h1M566 185.5h1M574 185.5h1M582 185.5h1M589 185.5h1M597 185.5h1M605 185.5h1M243 186.5h1M259 186.5h1M296 186.5h3M304 186.5h1M320 186.5h2M365 186.5h2M381 186.5h1M404 186.5h1M413 186.5h1M418 186.5h2M472 186.5h2M504 186.5h1M528 186.5h1M535 186.5h1M543 186.5h1M566 186.5h1M573 186.5h2M581 186.5h2M588 186.5h2M596 186.5h2M604 186.5h2M243 187.5h1M258 187.5h1M295 187.5h1M298 187.5h1M303 187.5h1M319 187.5h1M321 187.5h1M364 187.5h1M380 187.5h1M403 187.5h1M413 187.5h1M416 187.5h2M471 187.5h1M504 187.5h1M528 187.5h1M535 187.5h1M542 187.5h1M565 187.5h2M572 187.5h3M580 187.5h3M587 187.5h3M595 187.5h3M604 187.5h2M242 188.5h1M258 188.5h1M293 188.5h2M298 188.5h1M302 188.5h1M318 188.5h1M321 188.5h1M362 188.5h2M379 188.5h1M402 188.5h1M413 188.5h3M469 188.5h2M503 188.5h1M528 188.5h1M534 188.5h1M542 188.5h1M565 188.5h2M571 188.5h2M574 188.5h1M579 188.5h2M582 188.5h1M586 188.5h1M588 188.5h2M594 188.5h2M597 188.5h1M603 188.5h1M605 188.5h1M242 189.5h1M257 189.5h1M292 189.5h1M298 189.5h1M301 189.5h1M317 189.5h1M321 189.5h1M361 189.5h1M378 189.5h1M401 189.5h1M412 189.5h2M468 189.5h1M503 189.5h1M528 189.5h1M534 189.5h1M541 189.5h1M564 189.5h1M566 189.5h1M570 189.5h1M572 189.5h1M574 189.5h1M578 189.5h1M580 189.5h1M582 189.5h1M585 189.5h1M587 189.5h1M589 189.5h1M593 189.5h1M595 189.5h1M597 189.5h1M603 189.5h1M605 189.5h1M241 190.5h1M257 190.5h1M290 190.5h2M298 190.5h1M300 190.5h1M316 190.5h1M321 190.5h1M359 190.5h2M377 190.5h1M400 190.5h1M410 190.5h2M413 190.5h1M466 190.5h2M502 190.5h1M528 190.5h1M533 190.5h1M541 190.5h1M564 190.5h1M566 190.5h1M569 190.5h1M571 190.5h1M574 190.5h1M577 190.5h1M579 190.5h1M582 190.5h1M584 190.5h1M587 190.5h1M589 190.5h1M592 190.5h1M594 190.5h1M597 190.5h1M602 190.5h1M605 190.5h1M241 191.5h1M256 191.5h1M289 191.5h1M298 191.5h2M315 191.5h1M321 191.5h1M358 191.5h1M376 191.5h1M399 191.5h1M408 191.5h2M413 191.5h1M465 191.5h1M502 191.5h1M528 191.5h1M533 191.5h1M540 191.5h1M563 191.5h1M566 191.5h1M568 191.5h1M571 191.5h1M574 191.5h1M576 191.5h1M579 191.5h1M582 191.5h2M586 191.5h1M589 191.5h1M591 191.5h1M594 191.5h1M597 191.5h1M602 191.5h1M605 191.5h1M240 192.5h1M256 192.5h1M287 192.5h2M298 192.5h1M313 192.5h2M321 192.5h1M356 192.5h2M375 192.5h1M398 192.5h1M406 192.5h2M413 192.5h1M463 192.5h2M501 192.5h1M528 192.5h1M532 192.5h1M540 192.5h1M563 192.5h1M566 192.5h2M570 192.5h1M574 192.5h2M578 192.5h1M582 192.5h1M586 192.5h1M589 192.5h2M593 192.5h1M597 192.5h1M601 192.5h1M605 192.5h1M240 193.5h1M255 193.5h1M285 193.5h2M297 193.5h2M312 193.5h1M321 193.5h1M354 193.5h2M374 193.5h1M397 193.5h1M404 193.5h2M413 193.5h1M461 193.5h2M501 193.5h1M528 193.5h1M532 193.5h1M539 193.5h1M562 193.5h1M566 193.5h1M570 193.5h1M573 193.5h2M578 193.5h1M581 193.5h2M585 193.5h1M589 193.5h1M593 193.5h1M597 193.5h1M601 193.5h1M605 193.5h1M239 194.5h1M255 194.5h1M284 194.5h1M296 194.5h1M298 194.5h1M311 194.5h1M321 194.5h1M353 194.5h1M373 194.5h1M396 194.5h1M402 194.5h2M413 194.5h1M460 194.5h1M500 194.5h1M528 194.5h1M531 194.5h1M539 194.5h1M562 194.5h1M565 194.5h2M569 194.5h1M572 194.5h1M574 194.5h1M577 194.5h1M580 194.5h1M582 194.5h1M585 194.5h1M588 194.5h2M592 194.5h1M597 194.5h1M600 194.5h1M605 194.5h1M239 195.5h1M254 195.5h1M282 195.5h2M295 195.5h1M298 195.5h1M310 195.5h1M321 195.5h1M351 195.5h2M372 195.5h1M395 195.5h1M400 195.5h2M413 195.5h1M458 195.5h2M500 195.5h1M528 195.5h1M531 195.5h1M538 195.5h1M561 195.5h1M564 195.5h1M566 195.5h1M569 195.5h1M571 195.5h1M574 195.5h1M577 195.5h1M579 195.5h1M582 195.5h1M584 195.5h1M587 195.5h1M589 195.5h1M592 195.5h1M597 195.5h1M600 195.5h1M605 195.5h1M238 196.5h1M254 196.5h1M281 196.5h1M294 196.5h1M298 196.5h1M309 196.5h1M321 196.5h1M350 196.5h1M371 196.5h1M394 196.5h1M398 196.5h2M413 196.5h1M457 196.5h1M499 196.5h1M528 196.5h1M530 196.5h1M538 196.5h1M561 196.5h1M563 196.5h1M566 196.5h1M568 196.5h1M570 196.5h1M574 196.5h1M576 196.5h1M578 196.5h1M582 196.5h1M584 196.5h1M586 196.5h1M589 196.5h1M591 196.5h1M597 196.5h1M599 196.5h1M605 196.5h1M238 197.5h1M253 197.5h1M279 197.5h2M293 197.5h1M298 197.5h1M308 197.5h1M321 197.5h1M348 197.5h2M370 197.5h1M393 197.5h1M396 197.5h2M413 197.5h1M455 197.5h2M499 197.5h1M528 197.5h1M530 197.5h1M537 197.5h1M560 197.5h1M562 197.5h1M566 197.5h1M568 197.5h2M574 197.5h1M576 197.5h2M582 197.5h2M585 197.5h1M589 197.5h1M591 197.5h1M597 197.5h1M599 197.5h1M605 197.5h1M237 198.5h1M253 198.5h1M278 198.5h1M292 198.5h1M298 198.5h1M307 198.5h1M321 198.5h1M347 198.5h1M369 198.5h1M392 198.5h1M394 198.5h2M413 198.5h1M454 198.5h1M498 198.5h1M528 198.5h2M537 198.5h1M560 198.5h2M566 198.5h3M574 198.5h3M582 198.5h3M589 198.5h2M597 198.5h2M605 198.5h1M237 199.5h1M252 199.5h1M276 199.5h2M291 199.5h1M298 199.5h1M306 199.5h1M321 199.5h1M345 199.5h2M368 199.5h1M391 199.5h3M413 199.5h1M452 199.5h2M498 199.5h1M528 199.5h2M536 199.5h1M559 199.5h2M566 199.5h2M574 199.5h2M582 199.5h2M589 199.5h2M597 199.5h2M605 199.5h1M236 200.5h1M252 200.5h1M275 200.5h1M290 200.5h1M298 200.5h1M305 200.5h1M321 200.5h1M343 200.5h2M367 200.5h1M390 200.5h2M413 200.5h1M450 200.5h2M497 200.5h1M528 200.5h1M536 200.5h1M559 200.5h1M566 200.5h1M574 200.5h1M582 200.5h1M589 200.5h1M597 200.5h1M605 200.5h1M236 201.5h1M251 201.5h1M273 201.5h2M289 201.5h1M298 201.5h1M304 201.5h1M320 201.5h1M341 201.5h2M365 201.5h2M389 201.5h1M412 201.5h1M448 201.5h2M497 201.5h1M527 201.5h2M535 201.5h1M558 201.5h1M565 201.5h2M573 201.5h2M581 201.5h2M588 201.5h2M596 201.5h2M604 201.5h2M236 202.5h1M250 202.5h1M272 202.5h1M289 202.5h1M298 202.5h1M303 202.5h1M320 202.5h1M338 202.5h3M364 202.5h1M389 202.5h1M412 202.5h1M445 202.5h3M496 202.5h1M526 202.5h3M535 202.5h1M557 202.5h2M564 202.5h3M572 202.5h3M580 202.5h3M587 202.5h3M595 202.5h3M604 202.5h2M236 203.5h1M249 203.5h1M270 203.5h2M288 203.5h1M298 203.5h1M302 203.5h1M319 203.5h1M335 203.5h3M362 203.5h2M388 203.5h1M411 203.5h1M443 203.5h2M496 203.5h1M525 203.5h2M528 203.5h1M534 203.5h1M556 203.5h2M563 203.5h1M565 203.5h2M571 203.5h2M574 203.5h1M579 203.5h2M582 203.5h1M586 203.5h1M588 203.5h2M594 203.5h2M597 203.5h1M603 203.5h1M605 203.5h1M236 204.5h1M248 204.5h1M269 204.5h1M288 204.5h1M298 204.5h1M301 204.5h1M319 204.5h1M333 204.5h2M361 204.5h1M388 204.5h1M411 204.5h1M440 204.5h3M495 204.5h1M524 204.5h1M526 204.5h1M528 204.5h1M534 204.5h1M555 204.5h1M557 204.5h1M562 204.5h1M564 204.5h1M566 204.5h1M570 204.5h1M572 204.5h1M574 204.5h1M578 204.5h1M580 204.5h1M582 204.5h1M585 204.5h1M587 204.5h1M589 204.5h1M593 204.5h1M595 204.5h1M597 204.5h1M603 204.5h1M605 204.5h1M236 205.5h1M247 205.5h1M267 205.5h2M287 205.5h1M298 205.5h1M300 205.5h1M318 205.5h1M330 205.5h3M359 205.5h2M387 205.5h1M410 205.5h1M438 205.5h2M495 205.5h1M523 205.5h1M525 205.5h1M528 205.5h1M533 205.5h1M554 205.5h1M556 205.5h1M561 205.5h1M564 205.5h1M566 205.5h1M569 205.5h1M571 205.5h1M574 205.5h1M577 205.5h1M579 205.5h1M582 205.5h1M584 205.5h1M587 205.5h1M589 205.5h1M592 205.5h1M594 205.5h1M597 205.5h1M602 205.5h1M605 205.5h1M236 206.5h1M246 206.5h1M266 206.5h1M287 206.5h1M298 206.5h2M318 206.5h1M328 206.5h2M358 206.5h1M387 206.5h1M410 206.5h1M435 206.5h3M494 206.5h1M522 206.5h1M525 206.5h1M528 206.5h1M533 206.5h1M553 206.5h1M556 206.5h1M560 206.5h1M563 206.5h1M566 206.5h1M568 206.5h1M571 206.5h1M574 206.5h1M576 206.5h1M579 206.5h1M582 206.5h2M586 206.5h1M589 206.5h1M591 206.5h1M594 206.5h1M597 206.5h1M602 206.5h1M605 206.5h1M236 207.5h1M244 207.5h2M264 207.5h2M286 207.5h1M298 207.5h1M317 207.5h1M325 207.5h3M356 207.5h2M386 207.5h1M409 207.5h1M432 207.5h3M494 207.5h1M521 207.5h1M524 207.5h1M528 207.5h1M532 207.5h1M551 207.5h2M555 207.5h1M559 207.5h1M563 207.5h1M566 207.5h2M570 207.5h1M574 207.5h2M578 207.5h1M582 207.5h1M586 207.5h1M589 207.5h2M593 207.5h1M597 207.5h1M601 207.5h1M605 207.5h1M236 208.5h1M243 208.5h1M262 208.5h2M286 208.5h1M297 208.5h2M317 208.5h1M322 208.5h3M354 208.5h2M386 208.5h1M409 208.5h1M430 208.5h2M493 208.5h1M520 208.5h1M524 208.5h1M528 208.5h1M532 208.5h1M550 208.5h1M555 208.5h1M558 208.5h1M562 208.5h1M566 208.5h1M570 208.5h1M573 208.5h2M578 208.5h1M581 208.5h2M585 208.5h1M589 208.5h1M593 208.5h1M597 208.5h1M601 208.5h1M605 208.5h1M236 209.5h1M242 209.5h1M261 209.5h1M285 209.5h1M296 209.5h1M298 209.5h1M316 209.5h1M320 209.5h2M353 209.5h1M385 209.5h1M408 209.5h1M427 209.5h3M493 209.5h1M519 209.5h1M523 209.5h1M528 209.5h1M531 209.5h1M549 209.5h1M554 209.5h1M557 209.5h1M562 209.5h1M565 209.5h2M569 209.5h1M572 209.5h1M574 209.5h1M577 209.5h1M580 209.5h1M582 209.5h1M585 209.5h1M588 209.5h2M592 209.5h1M597 209.5h1M600 209.5h1M605 209.5h1M236 210.5h1M241 210.5h1M259 210.5h2M285 210.5h1M295 210.5h1M298 210.5h1M316 210.5h4M351 210.5h2M385 210.5h1M408 210.5h1M425 210.5h2M492 210.5h1M518 210.5h1M523 210.5h1M528 210.5h1M531 210.5h1M548 210.5h1M554 210.5h1M556 210.5h1M561 210.5h1M564 210.5h1M566 210.5h1M569 210.5h1M571 210.5h1M574 210.5h1M577 210.5h1M579 210.5h1M582 210.5h1M584 210.5h1M587 210.5h1M589 210.5h1M592 210.5h1M597 210.5h1M600 210.5h1M605 210.5h1M236 211.5h1M240 211.5h1M258 211.5h1M284 211.5h1M294 211.5h1M298 211.5h1M315 211.5h2M350 211.5h1M384 211.5h1M407 211.5h1M422 211.5h3M492 211.5h1M517 211.5h1M522 211.5h1M528 211.5h1M530 211.5h1M547 211.5h1M553 211.5h1M555 211.5h1M561 211.5h1M563 211.5h1M566 211.5h1M568 211.5h1M570 211.5h1M574 211.5h1M576 211.5h1M578 211.5h1M582 211.5h1M584 211.5h1M586 211.5h1M589 211.5h1M591 211.5h1M597 211.5h1M599 211.5h1M605 211.5h1M236 212.5h1M239 212.5h1M256 212.5h2M284 212.5h1M293 212.5h1M298 212.5h1M312 212.5h4M348 212.5h2M384 212.5h1M407 212.5h1M420 212.5h2M491 212.5h1M516 212.5h1M522 212.5h1M528 212.5h1M530 212.5h1M546 212.5h1M553 212.5h2M560 212.5h1M562 212.5h1M566 212.5h1M568 212.5h2M574 212.5h1M576 212.5h2M582 212.5h2M585 212.5h1M589 212.5h1M591 212.5h1M597 212.5h1M599 212.5h1M605 212.5h1M236 213.5h1M238 213.5h1M255 213.5h1M283 213.5h1M292 213.5h1M298 213.5h1M309 213.5h3M314 213.5h1M347 213.5h1M383 213.5h1M406 213.5h1M417 213.5h3M491 213.5h1M515 213.5h1M521 213.5h1M528 213.5h2M545 213.5h1M552 213.5h2M560 213.5h2M566 213.5h3M574 213.5h3M582 213.5h3M589 213.5h2M597 213.5h2M605 213.5h1M236 214.5h2M253 214.5h2M283 214.5h1M291 214.5h1M298 214.5h1M307 214.5h2M314 214.5h1M345 214.5h2M383 214.5h1M406 214.5h1M415 214.5h2M490 214.5h1M514 214.5h1M521 214.5h1M528 214.5h2M544 214.5h1M552 214.5h1M559 214.5h2M566 214.5h2M574 214.5h2M582 214.5h2M589 214.5h2M597 214.5h2M605 214.5h1M235 215.5h2M252 215.5h1M282 215.5h1M290 215.5h1M297 215.5h2M305 215.5h2M313 215.5h1M343 215.5h2M381 215.5h2M405 215.5h1M413 215.5h2M490 215.5h1M513 215.5h1M520 215.5h1M528 215.5h1M543 215.5h1M551 215.5h1M558 215.5h2M566 215.5h1M574 215.5h1M582 215.5h1M589 215.5h1M597 215.5h1M605 215.5h1M233 216.5h2M236 216.5h1M251 216.5h1M281 216.5h1M290 216.5h1M294 216.5h3M304 216.5h1M313 216.5h1M341 216.5h2M379 216.5h3M404 216.5h1M411 216.5h2M490 216.5h1M512 216.5h1M520 216.5h1M527 216.5h1M543 216.5h1M550 216.5h2M556 216.5h4M565 216.5h2M572 216.5h3M581 216.5h2M588 216.5h2M596 216.5h2M605 216.5h1M231 217.5h2M236 217.5h1M251 217.5h1M280 217.5h1M290 217.5h4M303 217.5h1M313 217.5h1M339 217.5h2M376 217.5h3M380 217.5h1M403 217.5h1M410 217.5h1M490 217.5h1M512 217.5h1M519 217.5h1M526 217.5h2M542 217.5h1M549 217.5h3M553 217.5h3M558 217.5h2M564 217.5h3M571 217.5h4M580 217.5h3M587 217.5h3M595 217.5h3M605 217.5h1M229 218.5h2M236 218.5h1M250 218.5h1M279 218.5h1M288 218.5h3M302 218.5h1M313 218.5h1M337 218.5h2M374 218.5h2M379 218.5h1M402 218.5h1M408 218.5h2M490 218.5h1M511 218.5h1M519 218.5h1M525 218.5h2M542 218.5h1M548 218.5h5M557 218.5h1M559 218.5h1M563 218.5h1M565 218.5h2M569 218.5h4M574 218.5h1M579 218.5h2M582 218.5h1M586 218.5h1M588 218.5h2M594 218.5h2M597 218.5h1M605 218.5h1M227 219.5h2M236 219.5h1M250 219.5h1M278 219.5h1M285 219.5h3M290 219.5h1M301 219.5h1M313 219.5h1M335 219.5h2M371 219.5h3M378 219.5h1M401 219.5h1M407 219.5h1M490 219.5h1M511 219.5h1M518 219.5h1M524 219.5h1M526 219.5h1M541 219.5h1M547 219.5h3M551 219.5h1M557 219.5h1M559 219.5h1M562 219.5h1M564 219.5h1M566 219.5h1M568 219.5h1M570 219.5h1M572 219.5h1M574 219.5h1M578 219.5h1M580 219.5h1M582 219.5h1M585 219.5h1M587 219.5h1M589 219.5h1M593 219.5h1M595 219.5h1M597 219.5h1M605 219.5h1M225 220.5h2M236 220.5h1M249 220.5h1M277 220.5h1M282 220.5h3M290 220.5h1M300 220.5h1M313 220.5h1M333 220.5h2M369 220.5h2M377 220.5h1M400 220.5h1M405 220.5h2M490 220.5h1M510 220.5h1M518 220.5h1M523 220.5h1M525 220.5h1M541 220.5h1M545 220.5h4M551 220.5h1M556 220.5h1M559 220.5h1M561 220.5h1M564 220.5h1M566 220.5h2M569 220.5h1M571 220.5h1M574 220.5h1M577 220.5h1M579 220.5h1M582 220.5h1M584 220.5h1M587 220.5h1M589 220.5h1M592 220.5h1M594 220.5h1M597 220.5h1M605 220.5h1M223 221.5h2M236 221.5h1M249 221.5h1M276 221.5h1M279 221.5h3M290 221.5h1M299 221.5h1M313 221.5h1M331 221.5h2M366 221.5h3M376 221.5h1M399 221.5h1M404 221.5h1M490 221.5h1M510 221.5h1M517 221.5h1M522 221.5h1M525 221.5h1M540 221.5h1M543 221.5h3M548 221.5h1M551 221.5h1M556 221.5h1M559 221.5h2M563 221.5h1M565 221.5h2M568 221.5h1M571 221.5h1M574 221.5h1M576 221.5h1M579 221.5h1M582 221.5h2M586 221.5h1M589 221.5h1M591 221.5h1M594 221.5h1M597 221.5h1M605 221.5h1M221 222.5h2M236 222.5h1M248 222.5h1M275 222.5h4M290 222.5h1M298 222.5h1M313 222.5h1M329 222.5h2M363 222.5h3M375 222.5h1M398 222.5h1M402 222.5h2M490 222.5h1M509 222.5h1M517 222.5h1M521 222.5h1M524 222.5h1M540 222.5h3M544 222.5h1M547 222.5h1M551 222.5h1M555 222.5h1M559 222.5h1M563 222.5h2M566 222.5h2M570 222.5h1M574 222.5h2M578 222.5h1M582 222.5h1M586 222.5h1M589 222.5h2M593 222.5h1M597 222.5h1M605 222.5h1M219 223.5h2M236 223.5h1M248 223.5h1M272 223.5h3M290 223.5h1M297 223.5h1M313 223.5h1M327 223.5h2M361 223.5h2M374 223.5h1M397 223.5h1M400 223.5h2M490 223.5h1M509 223.5h1M516 223.5h1M520 223.5h1M524 223.5h1M537 223.5h3M543 223.5h1M547 223.5h1M551 223.5h1M555 223.5h1M558 223.5h2M561 223.5h2M566 223.5h1M570 223.5h1M573 223.5h2M578 223.5h1M581 223.5h2M585 223.5h1M589 223.5h1M593 223.5h1M597 223.5h1M605 223.5h1M217 224.5h2M236 224.5h1M247 224.5h1M269 224.5h3M273 224.5h1M290 224.5h1M296 224.5h1M313 224.5h1M325 224.5h2M358 224.5h3M373 224.5h1M396 224.5h1M399 224.5h1M490 224.5h1M508 224.5h1M516 224.5h1M519 224.5h1M523 224.5h1M535 224.5h2M539 224.5h1M542 224.5h1M546 224.5h1M551 224.5h1M554 224.5h1M557 224.5h1M559 224.5h2M562 224.5h1M565 224.5h2M569 224.5h1M572 224.5h1M574 224.5h1M577 224.5h1M580 224.5h1M582 224.5h1M585 224.5h1M588 224.5h2M592 224.5h1M597 224.5h1M605 224.5h1M215 225.5h2M236 225.5h1M247 225.5h1M266 225.5h3M272 225.5h1M290 225.5h1M295 225.5h1M313 225.5h1M323 225.5h2M356 225.5h2M372 225.5h1M395 225.5h1M397 225.5h2M490 225.5h1M508 225.5h1M515 225.5h1M518 225.5h1M523 225.5h1M532 225.5h3M538 225.5h1M541 225.5h1M546 225.5h1M551 225.5h1M554 225.5h1M556 225.5h1M558 225.5h2M561 225.5h1M564 225.5h1M566 225.5h1M569 225.5h1M571 225.5h1M574 225.5h1M577 225.5h1M579 225.5h1M582 225.5h1M584 225.5h1M587 225.5h1M589 225.5h1M592 225.5h1M597 225.5h1M605 225.5h1M213 226.5h2M236 226.5h1M246 226.5h1M263 226.5h3M271 226.5h1M290 226.5h1M294 226.5h1M313 226.5h1M321 226.5h2M353 226.5h3M371 226.5h1M394 226.5h1M396 226.5h1M490 226.5h1M507 226.5h1M515 226.5h1M517 226.5h1M522 226.5h1M530 226.5h2M538 226.5h1M540 226.5h1M545 226.5h1M551 226.5h1M553 226.5h1M555 226.5h1M557 226.5h1M559 226.5h1M561 226.5h1M563 226.5h1M566 226.5h1M568 226.5h1M570 226.5h1M574 226.5h1M576 226.5h1M578 226.5h1M582 226.5h1M584 226.5h1M586 226.5h1M589 226.5h1M591 226.5h1M597 226.5h1M605 226.5h1M211 227.5h2M236 227.5h1M246 227.5h1M260 227.5h3M270 227.5h1M290 227.5h1M293 227.5h1M313 227.5h1M319 227.5h2M351 227.5h2M370 227.5h1M393 227.5h3M490 227.5h1M507 227.5h1M514 227.5h1M516 227.5h1M522 227.5h1M527 227.5h3M537 227.5h1M539 227.5h1M545 227.5h1M551 227.5h1M553 227.5h4M559 227.5h2M562 227.5h1M566 227.5h1M568 227.5h2M574 227.5h1M576 227.5h2M582 227.5h2M585 227.5h1M589 227.5h1M591 227.5h1M597 227.5h1M605 227.5h1M209 228.5h2M236 228.5h1M245 228.5h1M257 228.5h3M269 228.5h1M290 228.5h1M292 228.5h1M313 228.5h1M317 228.5h2M348 228.5h3M369 228.5h1M392 228.5h2M490 228.5h1M506 228.5h1M514 228.5h2M521 228.5h1M524 228.5h3M537 228.5h2M544 228.5h1M551 228.5h4M559 228.5h3M566 228.5h3M574 228.5h3M582 228.5h3M589 228.5h2M597 228.5h1M605 228.5h1M207 229.5h2M236 229.5h1M245 229.5h1M254 229.5h3M268 229.5h1M290 229.5h2M313 229.5h1M315 229.5h2M346 229.5h2M368 229.5h1M391 229.5h2M490 229.5h1M506 229.5h1M513 229.5h2M521 229.5h3M536 229.5h2M544 229.5h1M551 229.5h3M559 229.5h2M566 229.5h2M574 229.5h2M582 229.5h2M589 229.5h2M597 229.5h1M605 229.5h1M206 230.5h1M236 230.5h1M244 230.5h1M252 230.5h2M267 230.5h1M290 230.5h1M312 230.5h3M343 230.5h3M367 230.5h1M390 230.5h1M490 230.5h1M504 230.5h2M513 230.5h1M520 230.5h2M536 230.5h1M543 230.5h1M550 230.5h2M559 230.5h1M566 230.5h1M574 230.5h1M582 230.5h1M589 230.5h1M597 230.5h1M605 230.5h1M205 231.5h1M236 231.5h1M243 231.5h1M251 231.5h1M266 231.5h1M288 231.5h3M310 231.5h3M341 231.5h2M365 231.5h2M388 231.5h2M490 231.5h1M501 231.5h3M512 231.5h1M518 231.5h3M535 231.5h1M543 231.5h1M547 231.5h5M558 231.5h1M565 231.5h2M572 231.5h3M581 231.5h2M588 231.5h2M596 231.5h2M604 231.5h2M205 232.5h1M235 232.5h1M242 232.5h1M251 232.5h1M265 232.5h1M287 232.5h1M290 232.5h1M308 232.5h2M312 232.5h1M339 232.5h2M364 232.5h1M387 232.5h2M490 232.5h1M498 232.5h3M511 232.5h2M517 232.5h3M534 232.5h2M542 232.5h5M550 232.5h2M558 232.5h1M564 232.5h3M571 232.5h4M580 232.5h3M587 232.5h3M596 232.5h2M604 232.5h2M204 233.5h1M235 233.5h1M241 233.5h1M250 233.5h1M264 233.5h1M285 233.5h2M290 233.5h1M306 233.5h2M311 233.5h1M337 233.5h2M362 233.5h2M385 233.5h3M490 233.5h1M495 233.5h3M510 233.5h2M515 233.5h3M519 233.5h1M533 233.5h2M541 233.5h3M549 233.5h1M551 233.5h1M557 233.5h1M563 233.5h1M565 233.5h2M569 233.5h4M574 233.5h1M579 233.5h2M582 233.5h1M586 233.5h1M588 233.5h2M595 233.5h1M597 233.5h1M603 233.5h1M605 233.5h1M204 234.5h1M234 234.5h1M240 234.5h1M250 234.5h1M263 234.5h1M284 234.5h1M290 234.5h1M304 234.5h2M311 234.5h1M335 234.5h2M361 234.5h1M384 234.5h1M386 234.5h1M490 234.5h1M492 234.5h3M509 234.5h1M511 234.5h1M514 234.5h1M516 234.5h1M518 234.5h1M532 234.5h1M534 234.5h1M538 234.5h4M543 234.5h1M549 234.5h1M551 234.5h1M557 234.5h1M562 234.5h1M564 234.5h1M566 234.5h1M568 234.5h1M570 234.5h1M572 234.5h1M574 234.5h1M578 234.5h1M580 234.5h1M582 234.5h1M585 234.5h1M587 234.5h1M589 234.5h1M595 234.5h1M597 234.5h1M603 234.5h1M605 234.5h1M203 235.5h1M234 235.5h1M239 235.5h1M249 235.5h1M262 235.5h1M282 235.5h2M290 235.5h1M302 235.5h2M310 235.5h1M333 235.5h2M359 235.5h2M382 235.5h2M385 235.5h1M489 235.5h3M508 235.5h1M510 235.5h1M512 235.5h2M515 235.5h1M518 235.5h1M531 235.5h1M533 235.5h1M535 235.5h3M541 235.5h1M543 235.5h1M548 235.5h1M551 235.5h1M556 235.5h1M561 235.5h1M564 235.5h1M566 235.5h2M569 235.5h1M571 235.5h1M574 235.5h1M577 235.5h1M579 235.5h1M582 235.5h1M584 235.5h1M587 235.5h1M589 235.5h1M594 235.5h1M597 235.5h1M602 235.5h1M605 235.5h1M203 236.5h1M233 236.5h1M238 236.5h1M249 236.5h1M261 236.5h1M281 236.5h1M290 236.5h1M300 236.5h2M310 236.5h1M331 236.5h2M358 236.5h1M381 236.5h1M384 236.5h1M486 236.5h3M490 236.5h1M507 236.5h1M510 236.5h2M514 236.5h1M517 236.5h1M530 236.5h1M532 236.5h3M540 236.5h1M543 236.5h1M548 236.5h1M551 236.5h1M556 236.5h1M560 236.5h1M563 236.5h1M565 236.5h2M568 236.5h1M571 236.5h1M574 236.5h1M576 236.5h1M579 236.5h1M582 236.5h2M586 236.5h1M589 236.5h1M594 236.5h1M597 236.5h1M602 236.5h1M605 236.5h1M202 237.5h1M233 237.5h1M237 237.5h1M248 237.5h1M260 237.5h1M279 237.5h2M290 237.5h1M298 237.5h2M309 237.5h1M329 237.5h2M356 237.5h2M379 237.5h2M382 237.5h2M482 237.5h4M490 237.5h1M505 237.5h2M509 237.5h2M513 237.5h1M517 237.5h1M528 237.5h5M540 237.5h1M543 237.5h1M547 237.5h1M551 237.5h1M555 237.5h1M559 237.5h1M563 237.5h2M566 237.5h2M570 237.5h1M574 237.5h2M578 237.5h1M582 237.5h1M586 237.5h1M589 237.5h1M593 237.5h1M597 237.5h1M601 237.5h1M605 237.5h1M202 238.5h1M232 238.5h1M236 238.5h1M248 238.5h1M259 238.5h1M277 238.5h2M290 238.5h1M296 238.5h2M309 238.5h1M327 238.5h2M354 238.5h2M377 238.5h2M381 238.5h1M479 238.5h3M490 238.5h1M504 238.5h1M507 238.5h3M512 238.5h1M516 238.5h1M525 238.5h3M532 238.5h1M539 238.5h1M543 238.5h1M547 238.5h1M551 238.5h1M555 238.5h1M558 238.5h1M561 238.5h2M566 238.5h1M570 238.5h1M573 238.5h2M578 238.5h1M581 238.5h2M585 238.5h1M589 238.5h1M593 238.5h1M597 238.5h1M601 238.5h1M605 238.5h1M201 239.5h1M232 239.5h1M235 239.5h1M247 239.5h1M258 239.5h1M276 239.5h1M290 239.5h1M294 239.5h2M308 239.5h1M325 239.5h2M353 239.5h1M376 239.5h1M380 239.5h1M476 239.5h3M490 239.5h1M503 239.5h1M506 239.5h1M508 239.5h1M511 239.5h1M516 239.5h1M522 239.5h3M526 239.5h1M531 239.5h1M539 239.5h1M543 239.5h1M546 239.5h1M551 239.5h1M554 239.5h1M557 239.5h1M560 239.5h1M562 239.5h1M565 239.5h2M569 239.5h1M572 239.5h1M574 239.5h1M577 239.5h1M580 239.5h1M582 239.5h1M585 239.5h1M589 239.5h1M592 239.5h1M597 239.5h1M600 239.5h1M605 239.5h1M201 240.5h1M231 240.5h1M234 240.5h1M247 240.5h1M257 240.5h1M274 240.5h2M290 240.5h1M292 240.5h2M308 240.5h1M323 240.5h2M351 240.5h2M374 240.5h2M379 240.5h1M473 240.5h3M490 240.5h1M502 240.5h1M504 240.5h2M508 240.5h1M510 240.5h1M515 240.5h1M519 240.5h3M525 240.5h1M531 240.5h1M538 240.5h1M543 240.5h1M546 240.5h1M551 240.5h1M554 240.5h1M556 240.5h1M558 240.5h2M561 240.5h1M564 240.5h1M566 240.5h1M569 240.5h1M571 240.5h1M574 240.5h1M577 240.5h1M579 240.5h1M582 240.5h1M584 240.5h1M589 240.5h1M592 240.5h1M597 240.5h1M600 240.5h1M605 240.5h1M200 241.5h1M231 241.5h1M233 241.5h1M246 241.5h1M256 241.5h1M273 241.5h1M290 241.5h2M307 241.5h1M321 241.5h2M350 241.5h1M373 241.5h1M378 241.5h1M470 241.5h3M490 241.5h1M501 241.5h1M503 241.5h1M507 241.5h1M509 241.5h1M515 241.5h4M524 241.5h1M530 241.5h1M538 241.5h1M543 241.5h1M545 241.5h1M551 241.5h1M553 241.5h1M555 241.5h1M557 241.5h1M561 241.5h1M563 241.5h1M566 241.5h1M568 241.5h1M570 241.5h1M574 241.5h1M576 241.5h1M578 241.5h1M582 241.5h1M584 241.5h1M589 241.5h1M591 241.5h1M597 241.5h1M599 241.5h1M605 241.5h1M200 242.5h1M230 242.5h1M232 242.5h1M246 242.5h1M255 242.5h1M271 242.5h2M288 242.5h3M307 242.5h1M319 242.5h2M348 242.5h2M371 242.5h2M377 242.5h1M467 242.5h3M490 242.5h1M500 242.5h3M507 242.5h2M513 242.5h3M523 242.5h1M530 242.5h1M537 242.5h1M543 242.5h1M545 242.5h1M551 242.5h1M553 242.5h4M560 242.5h1M562 242.5h1M566 242.5h1M568 242.5h2M574 242.5h1M576 242.5h2M582 242.5h2M589 242.5h1M591 242.5h1M597 242.5h1M599 242.5h1M605 242.5h1M199 243.5h1M230 243.5h2M245 243.5h1M254 243.5h1M270 243.5h1M286 243.5h2M290 243.5h1M306 243.5h1M317 243.5h2M347 243.5h1M370 243.5h1M376 243.5h1M464 243.5h3M490 243.5h1M499 243.5h2M506 243.5h2M510 243.5h3M514 243.5h1M522 243.5h1M529 243.5h1M537 243.5h1M543 243.5h2M551 243.5h4M560 243.5h2M566 243.5h3M574 243.5h3M582 243.5h2M589 243.5h2M597 243.5h2M605 243.5h1M199 244.5h1M229 244.5h2M245 244.5h1M253 244.5h1M268 244.5h2M284 244.5h2M290 244.5h1M306 244.5h1M315 244.5h2M345 244.5h2M368 244.5h2M375 244.5h1M461 244.5h3M490 244.5h1M498 244.5h2M506 244.5h4M513 244.5h1M521 244.5h1M529 244.5h1M536 244.5h1M543 244.5h2M551 244.5h3M559 244.5h2M566 244.5h2M574 244.5h2M582 244.5h1M589 244.5h2M597 244.5h2M605 244.5h1M198 245.5h1M229 245.5h1M244 245.5h1M252 245.5h1M267 245.5h1M282 245.5h2M290 245.5h1M305 245.5h1M312 245.5h3M344 245.5h1M367 245.5h1M374 245.5h1M458 245.5h3M490 245.5h1M496 245.5h2M504 245.5h3M513 245.5h1M520 245.5h1M528 245.5h1M536 245.5h1M542 245.5h2M551 245.5h1M559 245.5h1M566 245.5h1M574 245.5h1M582 245.5h1M589 245.5h1M597 245.5h1M605 245.5h1M198 246.5h1M228 246.5h2M243 246.5h1M251 246.5h1M266 246.5h1M280 246.5h2M290 246.5h1M305 246.5h1M310 246.5h2M343 246.5h1M365 246.5h2M374 246.5h1M456 246.5h2M489 246.5h1M492 246.5h5M502 246.5h3M512 246.5h1M519 246.5h2M527 246.5h1M535 246.5h1M540 246.5h2M543 246.5h1M549 246.5h3M557 246.5h3M564 246.5h3M572 246.5h3M581 246.5h1M588 246.5h2M596 246.5h2M605 246.5h1M198 247.5h1M227 247.5h1M229 247.5h1M242 247.5h1M250 247.5h1M265 247.5h1M279 247.5h1M290 247.5h1M304 247.5h1M308 247.5h2M343 247.5h1M364 247.5h1M373 247.5h1M453 247.5h3M488 247.5h4M495 247.5h1M500 247.5h2M503 247.5h2M511 247.5h1M518 247.5h2M527 247.5h1M535 247.5h1M538 247.5h2M542 247.5h2M548 247.5h4M556 247.5h4M563 247.5h4M571 247.5h4M581 247.5h1M587 247.5h3M595 247.5h3M605 247.5h1M198 248.5h1M226 248.5h1M229 248.5h1M241 248.5h1M249 248.5h1M264 248.5h1M277 248.5h2M290 248.5h1M304 248.5h1M306 248.5h2M342 248.5h1M362 248.5h2M373 248.5h1M451 248.5h2M485 248.5h4M494 248.5h1M498 248.5h2M502 248.5h2M510 248.5h1M517 248.5h1M519 248.5h1M526 248.5h1M534 248.5h1M536 248.5h2M542 248.5h2M546 248.5h4M551 248.5h1M554 248.5h4M559 248.5h1M561 248.5h3M565 248.5h2M569 248.5h4M574 248.5h1M580 248.5h1M586 248.5h1M588 248.5h2M594 248.5h2M597 248.5h1M605 248.5h1M198 249.5h1M225 249.5h1M229 249.5h1M240 249.5h1M248 249.5h1M263 249.5h1M276 249.5h1M290 249.5h1M303 249.5h3M342 249.5h1M361 249.5h1M372 249.5h1M448 249.5h3M482 249.5h3M486 249.5h1M493 249.5h1M496 249.5h2M501 249.5h1M503 249.5h1M509 249.5h1M516 249.5h1M518 249.5h1M526 249.5h1M534 249.5h2M541 249.5h1M543 249.5h1M545 249.5h1M547 249.5h1M549 249.5h1M551 249.5h1M553 249.5h1M555 249.5h1M557 249.5h1M559 249.5h2M562 249.5h1M564 249.5h1M566 249.5h1M568 249.5h1M570 249.5h1M572 249.5h1M574 249.5h1M580 249.5h1M585 249.5h1M587 249.5h1M589 249.5h1M593 249.5h1M595 249.5h1M597 249.5h1M605 249.5h1M198 250.5h1M224 250.5h1M229 250.5h1M239 250.5h1M247 250.5h1M262 250.5h1M274 250.5h2M290 250.5h1M302 250.5h2M341 250.5h1M359 250.5h2M372 250.5h1M446 250.5h2M478 250.5h4M485 250.5h1M492 250.5h1M494 250.5h2M500 250.5h1M502 250.5h1M508 250.5h1M515 250.5h1M518 250.5h1M525 250.5h1M532 250.5h2M541 250.5h1M543 250.5h2M546 250.5h1M548 250.5h1M551 250.5h2M554 250.5h1M556 250.5h1M558 250.5h2M561 250.5h1M564 250.5h1M566 250.5h2M569 250.5h1M571 250.5h1M574 250.5h1M579 250.5h1M584 250.5h1M587 250.5h1M589 250.5h1M592 250.5h1M594 250.5h1M597 250.5h1M605 250.5h1M198 251.5h1M223 251.5h1M229 251.5h1M238 251.5h1M246 251.5h1M261 251.5h1M273 251.5h1M290 251.5h1M300 251.5h3M341 251.5h1M358 251.5h1M371 251.5h1M443 251.5h3M475 251.5h3M484 251.5h1M491 251.5h3M499 251.5h1M502 251.5h1M507 251.5h1M514 251.5h1M517 251.5h1M525 251.5h1M530 251.5h2M533 251.5h1M540 251.5h1M542 251.5h2M545 251.5h1M548 251.5h1M550 251.5h2M553 251.5h1M556 251.5h2M559 251.5h2M563 251.5h1M565 251.5h2M568 251.5h1M571 251.5h1M574 251.5h1M579 251.5h1M583 251.5h1M586 251.5h1M589 251.5h1M591 251.5h1M594 251.5h1M597 251.5h1M605 251.5h1M198 252.5h1M221 252.5h2M229 252.5h1M237 252.5h1M244 252.5h2M260 252.5h1M271 252.5h2M290 252.5h1M298 252.5h2M302 252.5h1M340 252.5h1M356 252.5h2M371 252.5h1M440 252.5h3M471 252.5h4M482 252.5h2M490 252.5h2M498 252.5h1M501 252.5h1M505 252.5h2M513 252.5h1M517 252.5h1M524 252.5h1M528 252.5h2M532 252.5h1M540 252.5h2M543 252.5h2M547 252.5h3M551 252.5h2M555 252.5h2M559 252.5h1M563 252.5h2M566 252.5h2M570 252.5h1M574 252.5h1M578 252.5h1M582 252.5h1M586 252.5h1M589 252.5h2M593 252.5h1M597 252.5h1M605 252.5h1M198 253.5h1M220 253.5h1M229 253.5h1M236 253.5h1M243 253.5h1M259 253.5h1M269 253.5h2M290 253.5h1M296 253.5h2M301 253.5h1M340 253.5h1M354 253.5h2M370 253.5h1M438 253.5h2M467 253.5h4M481 253.5h1M488 253.5h2M497 253.5h1M501 253.5h1M504 253.5h1M512 253.5h1M516 253.5h1M524 253.5h1M526 253.5h2M532 253.5h1M538 253.5h2M543 253.5h1M546 253.5h2M550 253.5h2M553 253.5h3M558 253.5h2M561 253.5h2M566 253.5h1M570 253.5h1M574 253.5h1M578 253.5h1M581 253.5h1M585 253.5h1M589 253.5h1M593 253.5h1M597 253.5h1M605 253.5h1M198 254.5h1M219 254.5h1M229 254.5h1M235 254.5h1M242 254.5h1M258 254.5h1M268 254.5h1M290 254.5h1M294 254.5h2M301 254.5h1M339 254.5h1M353 254.5h1M370 254.5h1M435 254.5h3M464 254.5h3M480 254.5h1M486 254.5h3M496 254.5h1M500 254.5h1M503 254.5h1M511 254.5h1M516 254.5h1M523 254.5h3M531 254.5h1M537 254.5h1M539 254.5h1M542 254.5h2M545 254.5h2M549 254.5h1M551 254.5h2M554 254.5h1M557 254.5h1M559 254.5h2M562 254.5h1M565 254.5h2M569 254.5h1M574 254.5h1M577 254.5h1M580 254.5h1M585 254.5h1M588 254.5h2M592 254.5h1M597 254.5h1M605 254.5h1M198 255.5h1M218 255.5h1M229 255.5h1M234 255.5h1M241 255.5h1M257 255.5h1M266 255.5h2M290 255.5h1M292 255.5h2M300 255.5h1M339 255.5h1M351 255.5h2M369 255.5h1M433 255.5h2M460 255.5h4M479 255.5h1M484 255.5h2M487 255.5h1M495 255.5h1M500 255.5h1M502 255.5h1M510 255.5h1M515 255.5h1M522 255.5h2M531 255.5h1M535 255.5h2M538 255.5h1M541 255.5h1M543 255.5h2M546 255.5h1M548 255.5h1M550 255.5h2M554 255.5h1M556 255.5h1M558 255.5h2M561 255.5h1M564 255.5h1M566 255.5h1M569 255.5h1M574 255.5h1M577 255.5h1M579 255.5h1M584 255.5h1M587 255.5h1M589 255.5h1M592 255.5h1M597 255.5h1M605 255.5h1M198 256.5h1M217 256.5h1M229 256.5h1M233 256.5h1M240 256.5h1M256 256.5h1M265 256.5h1M290 256.5h2M300 256.5h1M338 256.5h1M350 256.5h1M369 256.5h1M430 256.5h3M457 256.5h3M478 256.5h1M482 256.5h2M486 256.5h1M494 256.5h1M499 256.5h1M501 256.5h1M509 256.5h1M515 256.5h1M520 256.5h3M530 256.5h1M534 256.5h1M538 256.5h1M540 256.5h1M542 256.5h2M545 256.5h1M547 256.5h1M549 256.5h1M551 256.5h1M553 256.5h1M555 256.5h1M557 256.5h1M559 256.5h1M561 256.5h1M563 256.5h1M566 256.5h1M568 256.5h1M574 256.5h1M576 256.5h1M578 256.5h1M584 256.5h1M586 256.5h1M589 256.5h1M591 256.5h1M597 256.5h1M605 256.5h1M198 257.5h1M216 257.5h1M229 257.5h1M232 257.5h1M239 257.5h1M255 257.5h1M263 257.5h2M288 257.5h3M299 257.5h1M338 257.5h1M348 257.5h2M368 257.5h1M428 257.5h2M453 257.5h4M477 257.5h1M480 257.5h2M485 257.5h1M493 257.5h1M499 257.5h2M508 257.5h1M514 257.5h1M518 257.5h2M522 257.5h1M530 257.5h1M532 257.5h2M537 257.5h1M539 257.5h3M543 257.5h1M545 257.5h4M551 257.5h1M553 257.5h4M559 257.5h2M562 257.5h1M566 257.5h1M568 257.5h1M574 257.5h1M576 257.5h2M583 257.5h1M585 257.5h1M589 257.5h1M591 257.5h1M597 257.5h1M605 257.5h1M198 258.5h1M215 258.5h1M229 258.5h1M231 258.5h1M238 258.5h1M254 258.5h1M262 258.5h1M286 258.5h2M290 258.5h1M299 258.5h1M337 258.5h1M347 258.5h1M368 258.5h1M425 258.5h3M450 258.5h3M476 258.5h1M478 258.5h2M484 258.5h1M492 258.5h1M498 258.5h2M507 258.5h1M514 258.5h1M516 258.5h2M521 258.5h1M529 258.5h1M531 258.5h1M537 258.5h3M543 258.5h4M551 258.5h4M559 258.5h3M566 258.5h2M574 258.5h3M583 258.5h2M589 258.5h2M597 258.5h1M605 258.5h1M198 259.5h1M214 259.5h1M229 259.5h2M237 259.5h1M253 259.5h1M260 259.5h2M284 259.5h2M290 259.5h1M298 259.5h1M337 259.5h1M345 259.5h2M367 259.5h1M423 259.5h2M446 259.5h4M475 259.5h3M483 259.5h1M491 259.5h1M498 259.5h1M506 259.5h1M513 259.5h3M521 259.5h1M529 259.5h2M536 259.5h3M543 259.5h3M551 259.5h3M559 259.5h2M566 259.5h2M574 259.5h2M582 259.5h2M589 259.5h2M597 259.5h1M605 259.5h1M198 260.5h1M213 260.5h1M228 260.5h2M236 260.5h1M252 260.5h1M259 260.5h1M282 260.5h2M290 260.5h1M298 260.5h1M336 260.5h1M343 260.5h2M367 260.5h1M420 260.5h3M443 260.5h3M473 260.5h3M482 260.5h1M490 260.5h1M497 260.5h1M505 260.5h1M511 260.5h3M520 260.5h1M528 260.5h1M535 260.5h2M543 260.5h1M550 260.5h2M558 260.5h2M565 260.5h2M573 260.5h2M582 260.5h1M589 260.5h1M597 260.5h1M605 260.5h1M197 261.5h1M212 261.5h1M226 261.5h3M236 261.5h1M251 261.5h1M257 261.5h2M280 261.5h2M289 261.5h1M297 261.5h1M335 261.5h1M341 261.5h2M366 261.5h1M416 261.5h4M440 261.5h3M470 261.5h3M474 261.5h1M480 261.5h2M488 261.5h2M496 261.5h1M504 261.5h1M507 261.5h4M512 261.5h1M519 261.5h1M527 261.5h1M533 261.5h4M541 261.5h3M547 261.5h5M556 261.5h3M563 261.5h4M571 261.5h3M580 261.5h3M588 261.5h2M596 261.5h1M604 261.5h1M196 262.5h1M211 262.5h1M223 262.5h4M235 262.5h1M250 262.5h1M256 262.5h1M279 262.5h1M289 262.5h1M296 262.5h1M335 262.5h1M339 262.5h2M366 262.5h1M412 262.5h4M437 262.5h3M467 262.5h3M473 262.5h1M479 262.5h1M487 262.5h1M495 262.5h1M503 262.5h4M512 262.5h1M518 262.5h1M527 262.5h1M530 262.5h3M535 262.5h2M540 262.5h3M544 262.5h8M553 262.5h6M561 262.5h6M569 262.5h3M573 262.5h1M579 262.5h1M581 262.5h2M587 262.5h2M596 262.5h1M604 262.5h1M195 263.5h1M210 263.5h1M220 263.5h3M224 263.5h2M235 263.5h1M249 263.5h1M254 263.5h2M277 263.5h2M288 263.5h1M295 263.5h1M334 263.5h1M337 263.5h2M365 263.5h1M409 263.5h3M434 263.5h3M464 263.5h3M473 263.5h1M477 263.5h2M485 263.5h2M494 263.5h1M499 263.5h5M511 263.5h1M517 263.5h1M526 263.5h5M534 263.5h1M536 263.5h1M538 263.5h20M559 263.5h5M565 263.5h6M572 263.5h1M577 263.5h2M580 263.5h1M582 263.5h1M586 263.5h1M588 263.5h1M595 263.5h1M603 263.5h1M194 264.5h1M209 264.5h1M218 264.5h2M223 264.5h1M234 264.5h1M248 264.5h1M253 264.5h1M276 264.5h1M288 264.5h1M294 264.5h1M334 264.5h3M365 264.5h1M405 264.5h4M431 264.5h3M461 264.5h3M472 264.5h1M476 264.5h1M484 264.5h1M493 264.5h1M495 264.5h4M503 264.5h1M511 264.5h1M516 264.5h1M525 264.5h4M534 264.5h1M536 264.5h8M545 264.5h1M547 264.5h5M553 264.5h1M555 264.5h1M557 264.5h2M560 264.5h1M562 264.5h1M564 264.5h3M568 264.5h1M572 264.5h1M576 264.5h1M580 264.5h1M582 264.5h1M585 264.5h1M587 264.5h1M595 264.5h1M603 264.5h1M193 265.5h1M208 265.5h1M215 265.5h3M221 265.5h2M234 265.5h1M247 265.5h1M251 265.5h2M274 265.5h2M287 265.5h1M293 265.5h1M333 265.5h2M364 265.5h1M402 265.5h3M428 265.5h3M458 265.5h3M472 265.5h1M474 265.5h2M482 265.5h2M491 265.5h4M502 265.5h1M510 265.5h1M515 265.5h1M522 265.5h5M533 265.5h1M535 265.5h7M543 265.5h7M551 265.5h2M554 265.5h3M558 265.5h2M561 265.5h1M563 265.5h2M566 265.5h2M571 265.5h1M574 265.5h2M579 265.5h1M582 265.5h1M584 265.5h1M587 265.5h1M594 265.5h1M602 265.5h1M192 266.5h1M207 266.5h1M213 266.5h2M220 266.5h1M233 266.5h1M246 266.5h1M250 266.5h1M273 266.5h1M287 266.5h1M292 266.5h1M331 266.5h3M364 266.5h1M398 266.5h4M425 266.5h3M455 266.5h3M471 266.5h1M473 266.5h1M481 266.5h1M487 266.5h5M502 266.5h1M510 266.5h1M514 266.5h1M520 266.5h2M523 266.5h3M532 266.5h9M542 266.5h7M550 266.5h2M553 266.5h2M556 266.5h2M560 266.5h4M565 266.5h2M571 266.5h1M573 266.5h1M579 266.5h1M582 266.5h2M586 266.5h1M594 266.5h1M602 266.5h1M191 267.5h1M206 267.5h1M210 267.5h3M218 267.5h2M233 267.5h1M244 267.5h2M248 267.5h2M271 267.5h2M286 267.5h1M290 267.5h2M329 267.5h2M332 267.5h1M363 267.5h1M394 267.5h4M421 267.5h4M451 267.5h4M471 267.5h2M479 267.5h2M482 267.5h5M490 267.5h1M501 267.5h1M509 267.5h1M513 267.5h1M517 267.5h3M521 267.5h2M524 267.5h1M528 267.5h7M536 267.5h2M540 267.5h3M544 267.5h2M547 267.5h3M551 267.5h2M555 267.5h2M559 267.5h2M563 267.5h2M566 267.5h1M570 267.5h3M578 267.5h1M582 267.5h1M586 267.5h1M593 267.5h1M601 267.5h1M190 268.5h1M205 268.5h1M207 268.5h3M216 268.5h2M232 268.5h1M243 268.5h1M246 268.5h2M269 268.5h2M286 268.5h1M289 268.5h1M327 268.5h2M332 268.5h1M363 268.5h1M391 268.5h3M418 268.5h3M448 268.5h3M469 268.5h2M477 268.5h5M489 268.5h1M501 268.5h1M509 268.5h1M512 268.5h1M514 268.5h3M519 268.5h2M524 268.5h4M530 268.5h3M534 268.5h6M542 268.5h2M546 268.5h2M549 268.5h3M553 268.5h3M557 268.5h2M561 268.5h2M566 268.5h1M569 268.5h2M578 268.5h1M581 268.5h2M585 268.5h1M593 268.5h1M601 268.5h1M189 269.5h1M204 269.5h3M215 269.5h1M232 269.5h1M242 269.5h1M245 269.5h1M268 269.5h1M285 269.5h1M288 269.5h1M325 269.5h2M331 269.5h1M362 269.5h1M387 269.5h4M415 269.5h3M445 269.5h3M468 269.5h1M470 269.5h1M474 269.5h4M488 269.5h1M500 269.5h1M508 269.5h1M511 269.5h3M517 269.5h2M522 269.5h3M527 269.5h3M531 269.5h7M539 269.5h4M545 269.5h5M551 269.5h2M554 269.5h4M560 269.5h1M562 269.5h1M566 269.5h1M568 269.5h2M577 269.5h1M580 269.5h1M582 269.5h1M585 269.5h1M592 269.5h1M600 269.5h1M188 270.5h1M202 270.5h3M213 270.5h2M231 270.5h1M241 270.5h1M243 270.5h2M266 270.5h2M285 270.5h1M287 270.5h1M323 270.5h2M331 270.5h1M362 270.5h1M384 270.5h3M412 270.5h3M442 270.5h3M466 270.5h2M469 270.5h7M487 270.5h1M500 270.5h1M508 270.5h4M515 270.5h2M519 270.5h3M523 270.5h1M525 270.5h4M530 270.5h7M538 270.5h2M541 270.5h1M543 270.5h4M548 270.5h1M550 270.5h2M553 270.5h2M556 270.5h1M558 270.5h2M561 270.5h1M566 270.5h2M569 270.5h1M577 270.5h1M579 270.5h1M582 270.5h1M584 270.5h1M592 270.5h1M600 270.5h1M187 271.5h1M200 271.5h3M212 271.5h1M231 271.5h1M240 271.5h1M242 271.5h1M265 271.5h1M284 271.5h1M286 271.5h1M321 271.5h2M330 271.5h1M361 271.5h1M380 271.5h4M409 271.5h3M439 271.5h3M465 271.5h5M473 271.5h1M486 271.5h1M499 271.5h1M507 271.5h3M513 271.5h2M516 271.5h3M522 271.5h3M526 271.5h1M528 271.5h5M534 271.5h1M536 271.5h3M540 271.5h1M542 271.5h4M547 271.5h1M549 271.5h1M551 271.5h3M555 271.5h1M557 271.5h1M561 271.5h1M565 271.5h2M568 271.5h1M576 271.5h1M578 271.5h1M582 271.5h1M584 271.5h1M591 271.5h1M599 271.5h1M186 272.5h1M197 272.5h3M201 272.5h1M210 272.5h2M230 272.5h1M239 272.5h3M263 272.5h2M284 272.5h2M319 272.5h2M330 272.5h1M361 272.5h1M376 272.5h4M406 272.5h3M436 272.5h3M462 272.5h4M468 272.5h1M471 272.5h2M485 272.5h1M499 272.5h1M504 272.5h5M511 272.5h5M520 272.5h3M524 272.5h14M539 272.5h4M545 272.5h7M553 272.5h4M560 272.5h1M563 272.5h2M566 272.5h1M568 272.5h1M576 272.5h2M582 272.5h2M591 272.5h1M599 272.5h1M185 273.5h1M194 273.5h3M200 273.5h1M209 273.5h1M230 273.5h1M238 273.5h2M262 273.5h1M283 273.5h2M317 273.5h2M329 273.5h1M360 273.5h1M373 273.5h3M403 273.5h3M433 273.5h3M458 273.5h5M468 273.5h1M470 273.5h1M484 273.5h1M498 273.5h1M501 273.5h3M506 273.5h2M509 273.5h4M517 273.5h3M521 273.5h1M523 273.5h4M529 273.5h5M536 273.5h5M544 273.5h5M551 273.5h4M560 273.5h1M562 273.5h1M566 273.5h2M575 273.5h2M582 273.5h2M590 273.5h1M598 273.5h1M184 274.5h1M192 274.5h2M199 274.5h1M207 274.5h2M229 274.5h1M237 274.5h2M260 274.5h2M283 274.5h1M315 274.5h2M329 274.5h1M360 274.5h1M369 274.5h4M400 274.5h3M430 274.5h3M454 274.5h4M460 274.5h2M467 274.5h3M483 274.5h1M498 274.5h3M506 274.5h4M515 274.5h2M521 274.5h3M529 274.5h3M536 274.5h3M544 274.5h3M551 274.5h3M559 274.5h3M566 274.5h2M575 274.5h1M582 274.5h1M590 274.5h1M598 274.5h1M183 275.5h1M190 275.5h2M198 275.5h1M206 275.5h1M229 275.5h1M236 275.5h1M258 275.5h2M282 275.5h1M312 275.5h3M328 275.5h1M359 275.5h1M366 275.5h3M397 275.5h3M427 275.5h3M450 275.5h4M458 275.5h2M466 275.5h2M482 275.5h1M496 275.5h3M504 275.5h3M512 275.5h3M519 275.5h3M527 275.5h3M535 275.5h2M542 275.5h3M550 275.5h2M559 275.5h1M566 275.5h1M573 275.5h2M582 275.5h1M589 275.5h1M597 275.5h1M182 276.5h1M190 276.5h1M197 276.5h1M204 276.5h2M227 276.5h2M235 276.5h1M256 276.5h2M280 276.5h3M310 276.5h2M328 276.5h1M357 276.5h2M364 276.5h2M395 276.5h2M424 276.5h3M446 276.5h4M456 276.5h2M464 276.5h2M467 276.5h1M480 276.5h2M494 276.5h3M501 276.5h4M509 276.5h3M517 276.5h2M520 276.5h1M524 276.5h4M533 276.5h4M540 276.5h4M547 276.5h4M557 276.5h2M564 276.5h3M571 276.5h3M581 276.5h2M589 276.5h1M596 276.5h1M182 277.5h1M190 277.5h1M196 277.5h1M203 277.5h1M226 277.5h1M234 277.5h1M254 277.5h2M279 277.5h1M281 277.5h1M308 277.5h2M327 277.5h1M356 277.5h1M362 277.5h2M392 277.5h3M421 277.5h3M443 277.5h3M454 277.5h2M462 277.5h2M467 277.5h1M479 277.5h2M491 277.5h3M495 277.5h1M498 277.5h4M503 277.5h1M506 277.5h3M514 277.5h3M519 277.5h1M521 277.5h3M526 277.5h2M531 277.5h12M544 277.5h7M556 277.5h1M563 277.5h1M565 277.5h2M569 277.5h2M572 277.5h2M580 277.5h3M589 277.5h1M595 277.5h1M181 278.5h1M190 278.5h1M195 278.5h1M201 278.5h2M224 278.5h2M233 278.5h1M252 278.5h2M277 278.5h2M281 278.5h1M306 278.5h2M327 278.5h1M354 278.5h2M360 278.5h2M389 278.5h3M418 278.5h3M439 278.5h4M452 278.5h2M460 278.5h2M467 278.5h1M477 278.5h3M489 278.5h2M494 278.5h5M502 278.5h4M512 278.5h3M518 278.5h3M525 278.5h2M529 278.5h21M554 278.5h2M561 278.5h2M565 278.5h4M571 278.5h2M579 278.5h2M582 278.5h1M589 278.5h1M594 278.5h1M181 279.5h1M190 279.5h1M194 279.5h1M200 279.5h1M223 279.5h1M232 279.5h1M250 279.5h2M276 279.5h1M280 279.5h1M304 279.5h2M326 279.5h1M353 279.5h1M358 279.5h2M387 279.5h2M415 279.5h3M436 279.5h3M450 279.5h2M458 279.5h2M467 279.5h1M476 279.5h1M478 279.5h1M486 279.5h3M492 279.5h5M500 279.5h3M509 279.5h4M515 279.5h4M524 279.5h1M526 279.5h3M530 279.5h1M532 279.5h12M545 279.5h1M547 279.5h1M549 279.5h1M553 279.5h1M560 279.5h1M564 279.5h3M570 279.5h1M572 279.5h1M578 279.5h1M580 279.5h1M582 279.5h1M589 279.5h1M593 279.5h1M180 280.5h1M190 280.5h1M193 280.5h1M198 280.5h2M221 280.5h2M231 280.5h1M248 280.5h2M274 280.5h2M280 280.5h1M302 280.5h2M326 280.5h1M351 280.5h2M356 280.5h2M384 280.5h3M412 280.5h3M432 280.5h4M448 280.5h2M456 280.5h2M467 280.5h1M474 280.5h2M477 280.5h1M484 280.5h2M489 280.5h5M497 280.5h4M507 280.5h4M512 280.5h3M518 280.5h1M523 280.5h1M525 280.5h2M528 280.5h6M535 280.5h7M543 280.5h2M546 280.5h1M548 280.5h1M551 280.5h2M558 280.5h2M563 280.5h2M566 280.5h1M569 280.5h1M571 280.5h1M577 280.5h1M579 280.5h1M582 280.5h1M589 280.5h1M592 280.5h1M180 281.5h1M190 281.5h1M192 281.5h1M197 281.5h1M220 281.5h1M230 281.5h1M246 281.5h2M273 281.5h1M279 281.5h1M300 281.5h2M325 281.5h1M350 281.5h1M354 281.5h2M382 281.5h2M409 281.5h3M429 281.5h3M446 281.5h2M454 281.5h2M467 281.5h1M473 281.5h1M476 281.5h1M481 281.5h3M486 281.5h6M494 281.5h3M499 281.5h1M504 281.5h8M517 281.5h1M522 281.5h4M527 281.5h14M542 281.5h1M545 281.5h1M548 281.5h1M550 281.5h1M557 281.5h1M561 281.5h3M566 281.5h1M568 281.5h1M571 281.5h1M576 281.5h1M579 281.5h1M582 281.5h1M589 281.5h1M591 281.5h1M179 282.5h1M190 282.5h2M195 282.5h2M218 282.5h2M229 282.5h1M244 282.5h2M271 282.5h2M279 282.5h1M298 282.5h2M325 282.5h1M348 282.5h2M352 282.5h2M379 282.5h3M405 282.5h4M425 282.5h4M444 282.5h2M452 282.5h2M467 282.5h1M471 282.5h2M475 282.5h1M478 282.5h3M482 282.5h7M490 282.5h4M498 282.5h1M501 282.5h3M505 282.5h4M517 282.5h1M521 282.5h2M524 282.5h3M528 282.5h7M536 282.5h2M540 282.5h2M544 282.5h1M547 282.5h3M555 282.5h2M559 282.5h2M563 282.5h1M566 282.5h2M570 282.5h1M574 282.5h2M578 282.5h1M582 282.5h1M589 282.5h2M179 283.5h1M190 283.5h1M193 283.5h2M216 283.5h2M228 283.5h1M242 283.5h2M269 283.5h2M278 283.5h1M296 283.5h2M324 283.5h1M346 283.5h2M350 283.5h2M376 283.5h3M402 283.5h3M421 283.5h4M442 283.5h2M450 283.5h2M467 283.5h1M469 283.5h2M474 283.5h1M476 283.5h2M479 283.5h3M484 283.5h2M487 283.5h3M497 283.5h1M499 283.5h2M502 283.5h3M516 283.5h1M519 283.5h2M522 283.5h6M530 283.5h3M534 283.5h3M538 283.5h2M543 283.5h1M546 283.5h2M553 283.5h2M557 283.5h2M562 283.5h1M566 283.5h1M570 283.5h1M573 283.5h1M578 283.5h1M582 283.5h1M589 283.5h1M178 284.5h1M189 284.5h2M192 284.5h1M215 284.5h1M227 284.5h1M240 284.5h2M268 284.5h1M278 284.5h1M294 284.5h2M324 284.5h1M345 284.5h1M348 284.5h2M374 284.5h2M399 284.5h3M418 284.5h3M440 284.5h2M448 284.5h2M467 284.5h2M473 284.5h6M481 284.5h6M488 284.5h1M496 284.5h7M516 284.5h14M531 284.5h4M536 284.5h2M539 284.5h1M542 284.5h1M545 284.5h2M552 284.5h1M555 284.5h2M562 284.5h1M565 284.5h2M569 284.5h1M572 284.5h1M577 284.5h1M582 284.5h1M588 284.5h2M178 285.5h1M188 285.5h1M190 285.5h2M213 285.5h2M226 285.5h1M238 285.5h2M266 285.5h2M277 285.5h1M292 285.5h2M323 285.5h1M343 285.5h2M346 285.5h2M371 285.5h3M396 285.5h3M414 285.5h4M438 285.5h2M446 285.5h2M466 285.5h2M471 285.5h5M479 285.5h5M487 285.5h1M494 285.5h7M515 285.5h9M525 285.5h4M530 285.5h2M533 285.5h1M535 285.5h2M538 285.5h1M541 285.5h1M543 285.5h2M546 285.5h1M550 285.5h2M553 285.5h2M561 285.5h1M564 285.5h1M566 285.5h1M569 285.5h1M571 285.5h1M577 285.5h1M582 285.5h1M587 285.5h1M589 285.5h1M177 286.5h1M187 286.5h1M189 286.5h2M212 286.5h1M225 286.5h1M236 286.5h2M265 286.5h1M277 286.5h1M290 286.5h2M323 286.5h1M342 286.5h1M344 286.5h2M369 286.5h2M393 286.5h3M411 286.5h3M436 286.5h2M444 286.5h2M465 286.5h1M467 286.5h6M476 286.5h5M486 286.5h1M491 286.5h5M497 286.5h2M513 286.5h12M526 286.5h1M528 286.5h3M532 286.5h1M534 286.5h1M536 286.5h1M538 286.5h1M540 286.5h1M542 286.5h1M545 286.5h1M549 286.5h1M551 286.5h2M561 286.5h1M563 286.5h1M566 286.5h1M568 286.5h1M570 286.5h1M576 286.5h1M582 286.5h1M586 286.5h1M589 286.5h1M177 287.5h1M186 287.5h3M190 287.5h1M210 287.5h2M224 287.5h1M234 287.5h2M263 287.5h2M276 287.5h1M288 287.5h2M322 287.5h1M340 287.5h4M366 287.5h3M390 287.5h3M407 287.5h4M434 287.5h2M442 287.5h2M463 287.5h2M466 287.5h5M474 287.5h4M485 287.5h1M489 287.5h5M495 287.5h2M511 287.5h17M530 287.5h4M536 287.5h2M539 287.5h3M545 287.5h1M547 287.5h4M560 287.5h1M562 287.5h1M566 287.5h1M568 287.5h2M576 287.5h1M582 287.5h1M585 287.5h1M589 287.5h1M176 288.5h1M185 288.5h2M190 288.5h1M209 288.5h1M223 288.5h1M232 288.5h2M262 288.5h1M276 288.5h1M286 288.5h2M322 288.5h1M339 288.5h3M363 288.5h3M387 288.5h3M404 288.5h3M432 288.5h2M440 288.5h2M462 288.5h6M469 288.5h1M471 288.5h4M484 288.5h1M486 288.5h4M492 288.5h3M509 288.5h4M514 288.5h6M521 288.5h5M529 288.5h3M536 288.5h4M544 288.5h1M546 288.5h3M560 288.5h2M566 288.5h3M575 288.5h1M582 288.5h1M584 288.5h1M589 288.5h1M176 289.5h1M184 289.5h2M190 289.5h1M207 289.5h2M222 289.5h1M230 289.5h2M260 289.5h2M275 289.5h1M284 289.5h2M321 289.5h1M337 289.5h3M361 289.5h2M384 289.5h3M400 289.5h4M430 289.5h2M438 289.5h2M460 289.5h4M467 289.5h5M483 289.5h4M491 289.5h2M507 289.5h3M513 289.5h4M521 289.5h3M529 289.5h2M536 289.5h3M544 289.5h3M559 289.5h2M566 289.5h2M575 289.5h1M582 289.5h2M589 289.5h1M175 290.5h1M183 290.5h1M190 290.5h1M206 290.5h1M221 290.5h1M229 290.5h1M257 290.5h3M275 290.5h1M281 290.5h3M319 290.5h3M335 290.5h3M358 290.5h3M381 290.5h3M397 290.5h3M427 290.5h3M435 290.5h3M457 290.5h4M465 290.5h4M480 290.5h4M488 290.5h3M504 290.5h3M512 290.5h3M518 290.5h4M526 290.5h3M535 290.5h2M542 290.5h3M559 290.5h1M566 290.5h1M574 290.5h1M582 290.5h1M588 290.5h2M175 291.5h1M182 291.5h1M190 291.5h1M205 291.5h1M220 291.5h1M228 291.5h1M253 291.5h4M274 291.5h1M279 291.5h2M315 291.5h4M331 291.5h4M356 291.5h2M379 291.5h2M394 291.5h3M425 291.5h2M433 291.5h2M453 291.5h5M461 291.5h6M476 291.5h6M484 291.5h6M500 291.5h5M508 291.5h5M514 291.5h6M522 291.5h5M531 291.5h5M540 291.5h3M557 291.5h3M565 291.5h2M574 291.5h1M581 291.5h2M586 291.5h2M175 292.5h1M181 292.5h1M190 292.5h1M205 292.5h1M219 292.5h1M228 292.5h1M249 292.5h4M274 292.5h1M277 292.5h2M311 292.5h4M327 292.5h6M354 292.5h2M376 292.5h3M391 292.5h3M422 292.5h3M430 292.5h3M449 292.5h7M457 292.5h8M472 292.5h12M485 292.5h3M496 292.5h7M504 292.5h21M527 292.5h6M534 292.5h2M538 292.5h2M541 292.5h1M556 292.5h2M559 292.5h1M564 292.5h3M574 292.5h1M580 292.5h1M582 292.5h1M584 292.5h2M175 293.5h1M180 293.5h1M190 293.5h1M204 293.5h1M218 293.5h1M227 293.5h1M245 293.5h4M273 293.5h1M275 293.5h2M307 293.5h4M324 293.5h3M329 293.5h2M352 293.5h2M374 293.5h2M388 293.5h3M420 293.5h2M428 293.5h2M445 293.5h5M452 293.5h9M462 293.5h2M468 293.5h4M474 293.5h6M483 293.5h4M493 293.5h3M498 293.5h25M524 293.5h7M533 293.5h2M536 293.5h2M540 293.5h1M554 293.5h3M559 293.5h1M563 293.5h1M565 293.5h2M574 293.5h1M579 293.5h1M582 293.5h2M175 294.5h1M179 294.5h1M190 294.5h1M204 294.5h1M217 294.5h1M227 294.5h1M241 294.5h4M273 294.5h2M303 294.5h4M320 294.5h4M327 294.5h2M350 294.5h2M371 294.5h3M384 294.5h4M417 294.5h3M425 294.5h3M441 294.5h6M449 294.5h4M454 294.5h4M461 294.5h1M464 294.5h4M471 294.5h6M481 294.5h2M484 294.5h1M489 294.5h4M496 294.5h33M532 294.5h1M534 294.5h2M539 294.5h1M553 294.5h1M555 294.5h1M559 294.5h1M562 294.5h1M564 294.5h1M566 294.5h1M574 294.5h1M578 294.5h1M580 294.5h3M175 295.5h1M178 295.5h1M190 295.5h1M203 295.5h1M216 295.5h1M226 295.5h1M237 295.5h4M271 295.5h2M299 295.5h4M317 295.5h3M325 295.5h2M348 295.5h2M369 295.5h2M381 295.5h3M415 295.5h2M423 295.5h2M437 295.5h6M445 295.5h5M451 295.5h5M459 295.5h5M468 295.5h5M474 295.5h2M479 295.5h2M482 295.5h2M486 295.5h3M494 295.5h17M512 295.5h15M531 295.5h3M538 295.5h1M551 295.5h2M554 295.5h1M559 295.5h1M561 295.5h1M564 295.5h1M566 295.5h1M574 295.5h1M577 295.5h3M582 295.5h1M175 296.5h1M177 296.5h1M190 296.5h1M203 296.5h1M215 296.5h1M226 296.5h1M233 296.5h4M269 296.5h2M272 296.5h1M295 296.5h4M313 296.5h4M323 296.5h2M346 296.5h2M366 296.5h3M378 296.5h3M412 296.5h3M420 296.5h3M433 296.5h7M441 296.5h4M446 296.5h7M456 296.5h4M464 296.5h7M473 296.5h1M477 296.5h2M481 296.5h5M490 296.5h32M523 296.5h2M530 296.5h2M533 296.5h1M537 296.5h1M550 296.5h1M553 296.5h1M559 296.5h2M563 296.5h1M566 296.5h1M574 296.5h1M576 296.5h2M582 296.5h1M175 297.5h2M190 297.5h1M202 297.5h1M214 297.5h1M225 297.5h1M229 297.5h4M267 297.5h2M271 297.5h1M290 297.5h5M309 297.5h4M321 297.5h2M344 297.5h2M363 297.5h3M375 297.5h3M409 297.5h3M417 297.5h3M429 297.5h12M444 297.5h7M452 297.5h6M459 297.5h7M467 297.5h2M471 297.5h2M475 297.5h2M478 297.5h4M486 297.5h18M505 297.5h15M521 297.5h2M528 297.5h2M532 297.5h1M536 297.5h1M548 297.5h2M551 297.5h2M559 297.5h1M563 297.5h1M566 297.5h1M574 297.5h2M582 297.5h1M174 298.5h2M190 298.5h1M202 298.5h1M213 298.5h1M225 298.5h4M265 298.5h2M271 298.5h1M286 298.5h4M306 298.5h3M319 298.5h2M342 298.5h2M361 298.5h2M372 298.5h3M407 298.5h2M415 298.5h2M425 298.5h11M441 298.5h3M445 298.5h7M454 298.5h5M461 298.5h2M465 298.5h2M469 298.5h2M473 298.5h6M483 298.5h15M499 298.5h6M506 298.5h3M510 298.5h3M514 298.5h3M519 298.5h2M526 298.5h2M532 298.5h1M535 298.5h1M546 298.5h2M550 298.5h1M558 298.5h2M562 298.5h1M566 298.5h1M572 298.5h3M582 298.5h1M173 299.5h1M175 299.5h1M190 299.5h1M201 299.5h1M212 299.5h1M221 299.5h4M263 299.5h2M270 299.5h1M282 299.5h4M302 299.5h4M317 299.5h2M340 299.5h2M358 299.5h3M369 299.5h3M404 299.5h3M412 299.5h3M421 299.5h11M438 299.5h4M443 299.5h5M451 299.5h4M458 299.5h3M463 299.5h2M468 299.5h1M471 299.5h4M476 299.5h1M479 299.5h32M512 299.5h2M517 299.5h2M524 299.5h3M531 299.5h1M534 299.5h1M545 299.5h1M549 299.5h1M557 299.5h1M559 299.5h1M562 299.5h1M566 299.5h1M570 299.5h3M574 299.5h1M582 299.5h1M172 300.5h1M175 300.5h1M190 300.5h1M201 300.5h1M211 300.5h1M217 300.5h4M224 300.5h1M261 300.5h2M270 300.5h1M278 300.5h4M299 300.5h3M315 300.5h2M338 300.5h2M356 300.5h2M366 300.5h3M402 300.5h2M410 300.5h2M417 300.5h4M422 300.5h6M435 300.5h9M447 300.5h6M456 300.5h2M461 300.5h2M466 300.5h5M474 300.5h17M492 300.5h20M515 300.5h2M522 300.5h2M525 300.5h1M531 300.5h1M533 300.5h1M543 300.5h2M548 300.5h1M556 300.5h1M559 300.5h1M561 300.5h1M566 300.5h1M568 300.5h2M571 300.5h1M574 300.5h1M582 300.5h1M171 301.5h1M175 301.5h1M190 301.5h1M200 301.5h1M210 301.5h1M213 301.5h4M223 301.5h1M259 301.5h2M269 301.5h1M274 301.5h4M295 301.5h4M313 301.5h2M336 301.5h2M353 301.5h3M362 301.5h4M399 301.5h3M407 301.5h3M413 301.5h4M418 301.5h6M432 301.5h3M436 301.5h4M443 301.5h4M450 301.5h1M453 301.5h3M459 301.5h2M464 301.5h5M472 301.5h17M490 301.5h14M505 301.5h4M513 301.5h2M520 301.5h2M524 301.5h1M530 301.5h1M532 301.5h1M542 301.5h1M547 301.5h1M555 301.5h1M559 301.5h1M561 301.5h1M566 301.5h2M570 301.5h1M574 301.5h1M582 301.5h1M170 302.5h1M175 302.5h1M190 302.5h1M200 302.5h1M209 302.5h4M223 302.5h1M257 302.5h2M269 302.5h5M291 302.5h4M311 302.5h2M334 302.5h2M351 302.5h2M359 302.5h3M397 302.5h2M405 302.5h2M409 302.5h4M414 302.5h6M429 302.5h9M439 302.5h4M448 302.5h2M451 302.5h2M457 302.5h2M460 302.5h7M468 302.5h6M475 302.5h10M486 302.5h21M511 302.5h2M518 302.5h2M523 302.5h1M530 302.5h2M540 302.5h2M546 302.5h1M554 302.5h1M559 302.5h2M564 302.5h3M569 302.5h1M574 302.5h1M582 302.5h1M169 303.5h1M175 303.5h1M190 303.5h1M199 303.5h1M205 303.5h4M222 303.5h1M255 303.5h2M266 303.5h4M288 303.5h3M309 303.5h2M332 303.5h2M348 303.5h3M356 303.5h3M394 303.5h3M402 303.5h7M411 303.5h5M426 303.5h13M447 303.5h4M455 303.5h5M462 303.5h9M472 303.5h10M485 303.5h6M493 303.5h5M499 303.5h5M509 303.5h2M516 303.5h2M522 303.5h1M529 303.5h2M539 303.5h1M545 303.5h1M553 303.5h1M559 303.5h2M562 303.5h2M566 303.5h1M568 303.5h1M574 303.5h1M582 303.5h1M168 304.5h1M175 304.5h1M190 304.5h1M199 304.5h1M201 304.5h4M207 304.5h1M222 304.5h1M253 304.5h2M262 304.5h4M268 304.5h1M284 304.5h4M307 304.5h2M330 304.5h2M346 304.5h2M353 304.5h3M392 304.5h2M400 304.5h5M407 304.5h5M423 304.5h5M430 304.5h5M445 304.5h3M453 304.5h4M460 304.5h6M468 304.5h6M476 304.5h3M483 304.5h5M491 304.5h4M498 304.5h3M507 304.5h2M514 304.5h2M521 304.5h1M529 304.5h1M537 304.5h2M544 304.5h1M552 304.5h1M559 304.5h3M566 304.5h2M574 304.5h1M582 304.5h1M167 305.5h1M175 305.5h1M190 305.5h1M197 305.5h4M206 305.5h1M221 305.5h1M251 305.5h2M258 305.5h4M266 305.5h2M281 305.5h3M304 305.5h3M327 305.5h3M343 305.5h3M350 305.5h3M389 305.5h3M396 305.5h5M404 305.5h4M419 305.5h5M426 305.5h5M442 305.5h4M449 305.5h4M458 305.5h4M465 305.5h5M472 305.5h4M480 305.5h4M488 305.5h4M496 305.5h3M504 305.5h3M512 305.5h2M519 305.5h2M527 305.5h2M536 305.5h1M543 305.5h1M550 305.5h2M558 305.5h2M565 305.5h2M574 305.5h1M581 305.5h2M167 306.5h1M175 306.5h1M190 306.5h1M195 306.5h3M204 306.5h2M220 306.5h1M249 306.5h2M256 306.5h2M264 306.5h2M279 306.5h2M302 306.5h2M323 306.5h4M340 306.5h3M348 306.5h2M386 306.5h3M392 306.5h5M400 306.5h4M415 306.5h5M422 306.5h5M438 306.5h5M445 306.5h5M454 306.5h4M461 306.5h5M468 306.5h5M475 306.5h6M484 306.5h5M492 306.5h4M501 306.5h3M509 306.5h3M517 306.5h2M524 306.5h3M534 306.5h2M541 306.5h2M548 306.5h3M556 306.5h3M563 306.5h3M572 306.5h2M579 306.5h2M166 307.5h2M175 307.5h1M189 307.5h1M192 307.5h3M197 307.5h1M203 307.5h1M220 307.5h1M247 307.5h2M253 307.5h3M261 307.5h3M276 307.5h3M299 307.5h3M320 307.5h3M337 307.5h3M345 307.5h3M383 307.5h3M388 307.5h6M396 307.5h5M411 307.5h6M418 307.5h7M434 307.5h13M450 307.5h29M480 307.5h7M489 307.5h5M498 307.5h3M506 307.5h3M515 307.5h2M521 307.5h4M533 307.5h1M540 307.5h1M546 307.5h3M553 307.5h4M558 307.5h1M561 307.5h3M571 307.5h1M577 307.5h2M166 308.5h2M175 308.5h1M189 308.5h3M196 308.5h1M201 308.5h2M219 308.5h1M245 308.5h2M251 308.5h2M259 308.5h2M274 308.5h2M297 308.5h2M316 308.5h4M334 308.5h3M343 308.5h2M380 308.5h3M384 308.5h7M393 308.5h5M407 308.5h15M430 308.5h4M435 308.5h9M447 308.5h37M485 308.5h6M495 308.5h3M503 308.5h3M513 308.5h2M518 308.5h5M531 308.5h2M538 308.5h2M544 308.5h4M550 308.5h3M554 308.5h2M557 308.5h1M559 308.5h4M569 308.5h2M575 308.5h2M165 309.5h1M167 309.5h1M175 309.5h1M187 309.5h3M196 309.5h1M200 309.5h1M219 309.5h1M243 309.5h2M248 309.5h3M256 309.5h3M271 309.5h3M294 309.5h3M313 309.5h3M331 309.5h3M340 309.5h3M377 309.5h11M389 309.5h6M403 309.5h17M426 309.5h4M433 309.5h8M443 309.5h12M456 309.5h25M482 309.5h7M492 309.5h3M500 309.5h3M511 309.5h2M515 309.5h3M519 309.5h2M530 309.5h1M537 309.5h1M542 309.5h2M545 309.5h1M548 309.5h2M553 309.5h1M557 309.5h2M560 309.5h1M568 309.5h1M573 309.5h2M165 310.5h1M167 310.5h1M175 310.5h1M185 310.5h2M188 310.5h1M195 310.5h1M198 310.5h2M218 310.5h1M241 310.5h2M246 310.5h2M254 310.5h2M269 310.5h2M292 310.5h2M309 310.5h4M328 310.5h3M338 310.5h2M374 310.5h6M381 310.5h3M386 310.5h6M399 310.5h4M404 310.5h13M422 310.5h4M429 310.5h9M440 310.5h11M452 310.5h34M489 310.5h3M497 310.5h3M509 310.5h2M512 310.5h3M517 310.5h2M528 310.5h2M535 310.5h2M540 310.5h2M543 310.5h5M551 310.5h2M555 310.5h2M558 310.5h2M566 310.5h2M571 310.5h2M164 311.5h1M167 311.5h1M175 311.5h1M182 311.5h3M187 311.5h1M195 311.5h1M197 311.5h1M218 311.5h1M239 311.5h2M243 311.5h3M251 311.5h3M266 311.5h3M289 311.5h3M306 311.5h3M325 311.5h3M335 311.5h3M371 311.5h5M378 311.5h3M382 311.5h7M395 311.5h4M401 311.5h14M418 311.5h4M425 311.5h10M436 311.5h48M486 311.5h3M494 311.5h3M507 311.5h5M515 311.5h2M527 311.5h1M534 311.5h1M538 311.5h2M542 311.5h3M550 311.5h1M553 311.5h2M556 311.5h2M565 311.5h1M569 311.5h2M164 312.5h1M167 312.5h1M175 312.5h1M179 312.5h3M187 312.5h1M194 312.5h3M217 312.5h1M237 312.5h2M240 312.5h3M248 312.5h3M263 312.5h3M286 312.5h3M302 312.5h4M321 312.5h4M332 312.5h3M367 312.5h5M375 312.5h11M390 312.5h5M398 312.5h14M413 312.5h5M421 312.5h60M482 312.5h4M490 312.5h4M505 312.5h4M513 312.5h2M525 312.5h2M532 312.5h2M536 312.5h2M540 312.5h3M548 312.5h2M551 312.5h2M555 312.5h2M563 312.5h2M567 312.5h2M163 313.5h1M167 313.5h1M175 313.5h1M177 313.5h2M186 313.5h1M193 313.5h2M217 313.5h1M235 313.5h2M238 313.5h2M246 313.5h2M261 313.5h2M284 313.5h2M298 313.5h4M318 313.5h3M330 313.5h2M363 313.5h4M372 313.5h6M379 313.5h3M386 313.5h4M394 313.5h7M402 313.5h3M407 313.5h6M417 313.5h19M437 313.5h22M460 313.5h3M464 313.5h10M476 313.5h2M479 313.5h3M487 313.5h3M502 313.5h3M511 313.5h2M523 313.5h2M530 313.5h2M534 313.5h2M537 313.5h3M546 313.5h2M549 313.5h2M553 313.5h3M561 313.5h2M565 313.5h2M163 314.5h1M167 314.5h1M174 314.5h3M186 314.5h1M192 314.5h2M216 314.5h1M233 314.5h5M243 314.5h3M258 314.5h3M281 314.5h3M295 314.5h3M315 314.5h3M327 314.5h3M359 314.5h5M369 314.5h6M376 314.5h3M382 314.5h4M390 314.5h8M399 314.5h3M404 314.5h5M413 314.5h4M418 314.5h53M473 314.5h6M484 314.5h3M499 314.5h4M509 314.5h2M522 314.5h1M529 314.5h1M532 314.5h2M535 314.5h3M545 314.5h1M547 314.5h2M552 314.5h1M554 314.5h1M560 314.5h1M563 314.5h2M162 315.5h1M167 315.5h1M172 315.5h2M175 315.5h1M185 315.5h1M190 315.5h2M193 315.5h1M216 315.5h1M231 315.5h4M241 315.5h2M256 315.5h2M279 315.5h2M291 315.5h4M312 315.5h3M325 315.5h2M355 315.5h6M366 315.5h5M373 315.5h3M378 315.5h4M386 315.5h8M396 315.5h3M401 315.5h4M409 315.5h4M414 315.5h22M437 315.5h31M471 315.5h5M481 315.5h3M496 315.5h5M507 315.5h2M520 315.5h2M527 315.5h2M530 315.5h7M543 315.5h4M550 315.5h2M554 315.5h1M558 315.5h2M561 315.5h2M162 316.5h1M167 316.5h1M169 316.5h3M175 316.5h1M185 316.5h1M189 316.5h1M192 316.5h1M215 316.5h1M229 316.5h4M238 316.5h3M253 316.5h3M276 316.5h3M288 316.5h3M309 316.5h3M322 316.5h3M351 316.5h7M362 316.5h6M370 316.5h3M374 316.5h4M382 316.5h9M393 316.5h3M397 316.5h5M405 316.5h4M411 316.5h3M415 316.5h18M434 316.5h26M461 316.5h4M468 316.5h5M478 316.5h3M493 316.5h3M497 316.5h2M505 316.5h2M519 316.5h1M526 316.5h1M528 316.5h4M534 316.5h1M542 316.5h3M549 316.5h1M553 316.5h1M557 316.5h1M559 316.5h2M161 317.5h1M167 317.5h2M175 317.5h1M184 317.5h1M187 317.5h2M192 317.5h1M215 317.5h1M227 317.5h3M236 317.5h2M251 317.5h2M274 317.5h2M284 317.5h4M306 317.5h3M320 317.5h2M347 317.5h4M352 317.5h3M359 317.5h5M367 317.5h7M378 317.5h9M390 317.5h9M401 317.5h4M407 317.5h42M451 317.5h6M458 317.5h4M466 317.5h4M475 317.5h3M490 317.5h3M495 317.5h2M503 317.5h2M517 317.5h2M524 317.5h6M532 317.5h2M540 317.5h3M547 317.5h2M553 317.5h1M555 317.5h4M161 318.5h1M164 318.5h4M175 318.5h1M184 318.5h1M186 318.5h1M191 318.5h1M214 318.5h1M225 318.5h3M233 318.5h3M248 318.5h3M271 318.5h3M281 318.5h3M303 318.5h3M317 318.5h3M343 318.5h4M349 318.5h3M356 318.5h4M364 318.5h6M374 318.5h4M379 318.5h4M387 318.5h6M394 318.5h7M404 318.5h20M425 318.5h14M440 318.5h5M448 318.5h5M455 318.5h4M463 318.5h4M472 318.5h3M487 318.5h3M493 318.5h2M501 318.5h2M516 318.5h1M523 318.5h4M531 318.5h1M539 318.5h2M546 318.5h1M552 318.5h1M554 318.5h3M160 319.5h1M162 319.5h2M167 319.5h1M175 319.5h1M183 319.5h3M191 319.5h1M214 319.5h1M223 319.5h2M231 319.5h2M246 319.5h2M269 319.5h2M277 319.5h4M300 319.5h3M315 319.5h2M339 319.5h4M346 319.5h3M353 319.5h4M361 319.5h5M370 319.5h4M376 319.5h4M384 319.5h5M392 319.5h5M400 319.5h5M407 319.5h6M415 319.5h5M423 319.5h5M430 319.5h5M438 319.5h4M446 319.5h4M453 319.5h3M461 319.5h3M469 319.5h3M484 319.5h3M491 319.5h2M499 319.5h2M514 319.5h2M521 319.5h3M529 319.5h2M537 319.5h2M544 319.5h2M552 319.5h3M160 320.5h2M167 320.5h1M175 320.5h1M183 320.5h1M190 320.5h1M212 320.5h2M220 320.5h3M228 320.5h3M243 320.5h3M266 320.5h3M274 320.5h3M297 320.5h3M312 320.5h3M334 320.5h5M342 320.5h4M349 320.5h4M357 320.5h5M365 320.5h5M372 320.5h4M380 320.5h5M388 320.5h5M396 320.5h5M403 320.5h5M411 320.5h5M419 320.5h5M426 320.5h5M434 320.5h4M442 320.5h4M450 320.5h3M458 320.5h3M466 320.5h3M481 320.5h3M489 320.5h2M495 320.5h4M512 320.5h2M519 320.5h3M528 320.5h1M535 320.5h2M542 320.5h2M550 320.5h3M158 321.5h3M167 321.5h1M175 321.5h1M182 321.5h1M188 321.5h2M210 321.5h2M218 321.5h2M226 321.5h2M241 321.5h2M263 321.5h3M272 321.5h2M295 321.5h2M308 321.5h4M330 321.5h4M338 321.5h4M343 321.5h6M352 321.5h5M361 321.5h4M368 321.5h4M376 321.5h4M384 321.5h5M391 321.5h5M398 321.5h6M407 321.5h5M414 321.5h6M421 321.5h6M430 321.5h5M437 321.5h6M446 321.5h4M454 321.5h4M464 321.5h2M477 321.5h4M485 321.5h4M491 321.5h5M509 321.5h3M515 321.5h4M526 321.5h2M532 321.5h4M540 321.5h2M548 321.5h3M157 322.5h1M160 322.5h1M167 322.5h1M175 322.5h1M181 322.5h1M187 322.5h1M208 322.5h2M216 322.5h2M224 322.5h2M238 322.5h3M260 322.5h3M269 322.5h3M292 322.5h3M304 322.5h4M326 322.5h4M334 322.5h11M347 322.5h6M356 322.5h5M363 322.5h5M371 322.5h5M380 322.5h6M387 322.5h5M393 322.5h8M402 322.5h6M410 322.5h22M433 322.5h8M443 322.5h4M450 322.5h6M461 322.5h3M473 322.5h4M481 322.5h4M487 322.5h6M506 322.5h3M512 322.5h5M525 322.5h1M529 322.5h3M533 322.5h1M538 322.5h2M546 322.5h2M550 322.5h1M155 323.5h2M160 323.5h1M167 323.5h1M175 323.5h1M180 323.5h1M185 323.5h2M206 323.5h2M214 323.5h2M222 323.5h2M236 323.5h2M257 323.5h3M266 323.5h3M289 323.5h3M301 323.5h3M322 323.5h4M330 323.5h11M342 323.5h7M351 323.5h5M358 323.5h5M366 323.5h6M376 323.5h28M405 323.5h33M439 323.5h5M447 323.5h3M451 323.5h2M458 323.5h3M470 323.5h3M478 323.5h3M483 323.5h7M503 323.5h3M508 323.5h6M523 323.5h2M526 323.5h3M531 323.5h2M536 323.5h2M544 323.5h2M549 323.5h1M154 324.5h1M160 324.5h1M167 324.5h1M175 324.5h1M179 324.5h1M184 324.5h1M204 324.5h2M212 324.5h2M220 324.5h2M233 324.5h3M254 324.5h3M264 324.5h2M287 324.5h2M297 324.5h4M318 324.5h4M326 324.5h6M333 324.5h12M347 324.5h4M354 324.5h4M362 324.5h6M372 324.5h4M377 324.5h58M436 324.5h5M443 324.5h4M448 324.5h3M456 324.5h2M466 324.5h4M474 324.5h4M479 324.5h4M484 324.5h3M500 324.5h3M505 324.5h7M522 324.5h4M530 324.5h1M534 324.5h2M542 324.5h2M549 324.5h1M152 325.5h2M160 325.5h1M167 325.5h1M175 325.5h1M178 325.5h1M182 325.5h2M202 325.5h2M210 325.5h2M218 325.5h2M231 325.5h2M251 325.5h3M261 325.5h3M284 325.5h3M294 325.5h3M314 325.5h4M321 325.5h5M329 325.5h7M337 325.5h4M342 325.5h5M349 325.5h5M357 325.5h7M368 325.5h4M373 325.5h65M440 325.5h3M446 325.5h2M453 325.5h3M463 325.5h3M471 325.5h3M475 325.5h4M481 325.5h3M497 325.5h3M501 325.5h8M520 325.5h3M528 325.5h2M532 325.5h2M540 325.5h2M548 325.5h1M151 326.5h1M160 326.5h1M167 326.5h1M175 326.5h1M177 326.5h1M181 326.5h1M200 326.5h2M208 326.5h2M216 326.5h2M228 326.5h3M248 326.5h3M259 326.5h2M282 326.5h2M290 326.5h4M310 326.5h4M315 326.5h7M325 326.5h6M333 326.5h4M338 326.5h4M345 326.5h4M353 326.5h7M364 326.5h71M436 326.5h4M443 326.5h3M451 326.5h2M459 326.5h4M467 326.5h8M478 326.5h3M494 326.5h3M498 326.5h9M517 326.5h3M527 326.5h1M530 326.5h2M538 326.5h2M548 326.5h1M149 327.5h2M160 327.5h1M167 327.5h1M175 327.5h2M179 327.5h2M198 327.5h2M206 327.5h2M214 327.5h2M225 327.5h3M244 327.5h4M256 327.5h3M279 327.5h3M286 327.5h4M306 327.5h12M321 327.5h5M329 327.5h9M340 327.5h5M348 327.5h8M359 327.5h77M440 327.5h3M448 327.5h3M455 327.5h4M463 327.5h8M474 327.5h4M490 327.5h14M513 327.5h6M525 327.5h2M528 327.5h2M536 327.5h2M547 327.5h1M147 328.5h2M160 328.5h1M167 328.5h1M174 328.5h2M177 328.5h2M196 328.5h2M204 328.5h2M212 328.5h2M223 328.5h2M241 328.5h3M253 328.5h3M276 328.5h3M283 328.5h3M302 328.5h11M316 328.5h5M325 328.5h8M335 328.5h5M343 328.5h9M355 328.5h58M414 328.5h3M418 328.5h10M429 328.5h3M438 328.5h2M445 328.5h3M452 328.5h3M460 328.5h7M471 328.5h3M487 328.5h10M499 328.5h2M510 328.5h3M515 328.5h2M523 328.5h2M526 328.5h2M534 328.5h2M547 328.5h1M146 329.5h1M160 329.5h1M167 329.5h1M173 329.5h1M175 329.5h2M194 329.5h2M202 329.5h2M210 329.5h2M220 329.5h3M238 329.5h3M251 329.5h2M274 329.5h2M279 329.5h4M298 329.5h6M305 329.5h4M311 329.5h6M321 329.5h7M331 329.5h4M339 329.5h4M344 329.5h4M351 329.5h15M367 329.5h47M415 329.5h14M435 329.5h3M443 329.5h2M448 329.5h4M456 329.5h7M468 329.5h3M484 329.5h6M491 329.5h3M496 329.5h3M507 329.5h3M514 329.5h1M522 329.5h1M524 329.5h2M532 329.5h2M546 329.5h1M144 330.5h2M160 330.5h1M167 330.5h1M172 330.5h1M174 330.5h2M192 330.5h2M200 330.5h2M208 330.5h2M218 330.5h2M235 330.5h3M248 330.5h3M271 330.5h3M276 330.5h3M293 330.5h5M301 330.5h4M306 330.5h7M317 330.5h7M326 330.5h5M334 330.5h5M340 330.5h4M347 330.5h15M363 330.5h47M412 330.5h13M433 330.5h2M440 330.5h3M445 330.5h3M453 330.5h6M465 330.5h3M481 330.5h6M488 330.5h3M494 330.5h2M504 330.5h3M512 330.5h2M520 330.5h4M530 330.5h2M546 330.5h1M143 331.5h1M160 331.5h1M167 331.5h1M171 331.5h1M173 331.5h1M175 331.5h1M190 331.5h2M198 331.5h2M206 331.5h2M215 331.5h3M232 331.5h3M246 331.5h2M269 331.5h2M272 331.5h4M287 331.5h7M297 331.5h12M313 331.5h6M322 331.5h4M330 331.5h4M336 331.5h4M343 331.5h15M359 331.5h48M409 331.5h5M415 331.5h7M430 331.5h3M438 331.5h2M441 331.5h4M449 331.5h6M462 331.5h3M478 331.5h5M485 331.5h3M491 331.5h3M501 331.5h3M511 331.5h1M519 331.5h3M528 331.5h2M545 331.5h1M141 332.5h2M160 332.5h1M167 332.5h1M170 332.5h3M175 332.5h1M188 332.5h2M196 332.5h2M204 332.5h2M213 332.5h2M229 332.5h3M243 332.5h3M266 332.5h6M281 332.5h9M293 332.5h7M301 332.5h4M309 332.5h6M317 332.5h5M325 332.5h5M332 332.5h4M339 332.5h7M347 332.5h56M406 332.5h5M412 332.5h6M428 332.5h2M435 332.5h6M445 332.5h6M459 332.5h3M475 332.5h5M482 332.5h3M489 332.5h2M498 332.5h3M509 332.5h2M517 332.5h3M526 332.5h2M545 332.5h1M140 333.5h1M160 333.5h1M167 333.5h1M169 333.5h2M175 333.5h1M186 333.5h2M194 333.5h2M202 333.5h2M210 333.5h3M226 333.5h3M240 333.5h3M263 333.5h5M276 333.5h5M282 333.5h4M289 333.5h6M297 333.5h4M305 333.5h5M312 333.5h5M320 333.5h5M328 333.5h4M335 333.5h6M343 333.5h5M349 333.5h7M357 333.5h14M373 333.5h6M380 333.5h6M387 333.5h6M394 333.5h5M403 333.5h4M409 333.5h5M425 333.5h3M432 333.5h5M442 333.5h5M456 333.5h3M472 333.5h4M479 333.5h3M486 333.5h3M495 333.5h3M508 333.5h1M516 333.5h2M524 333.5h2M544 333.5h1M138 334.5h2M160 334.5h1M167 334.5h3M175 334.5h1M184 334.5h2M192 334.5h2M200 334.5h2M208 334.5h2M223 334.5h3M238 334.5h2M261 334.5h4M270 334.5h6M278 334.5h4M285 334.5h5M293 334.5h4M301 334.5h4M308 334.5h4M316 334.5h4M324 334.5h4M331 334.5h5M339 334.5h4M346 334.5h5M353 334.5h6M361 334.5h5M369 334.5h5M376 334.5h5M384 334.5h5M392 334.5h4M400 334.5h4M407 334.5h4M423 334.5h2M430 334.5h4M438 334.5h5M453 334.5h3M469 334.5h4M476 334.5h3M484 334.5h2M492 334.5h3M506 334.5h2M514 334.5h2M522 334.5h2M544 334.5h1M137 335.5h1M160 335.5h1M167 335.5h1M175 335.5h1M183 335.5h1M190 335.5h2M197 335.5h3M205 335.5h3M220 335.5h3M234 335.5h4M257 335.5h4M265 335.5h5M273 335.5h5M280 335.5h5M288 335.5h5M296 335.5h5M303 335.5h5M311 335.5h5M319 335.5h5M326 335.5h5M334 335.5h5M342 335.5h5M349 335.5h5M357 335.5h5M365 335.5h5M372 335.5h5M380 335.5h5M388 335.5h4M396 335.5h4M403 335.5h4M420 335.5h3M427 335.5h3M435 335.5h4M449 335.5h4M465 335.5h4M472 335.5h4M481 335.5h3M488 335.5h4M503 335.5h3M511 335.5h3M518 335.5h4M541 335.5h3M136 336.5h1M159 336.5h1M166 336.5h1M175 336.5h1M181 336.5h2M188 336.5h2M195 336.5h2M203 336.5h2M217 336.5h3M230 336.5h4M253 336.5h4M261 336.5h4M267 336.5h6M275 336.5h5M284 336.5h4M291 336.5h5M299 336.5h4M305 336.5h6M314 336.5h5M322 336.5h4M330 336.5h4M337 336.5h6M344 336.5h6M351 336.5h6M360 336.5h5M367 336.5h6M375 336.5h6M382 336.5h7M391 336.5h5M399 336.5h4M416 336.5h4M423 336.5h4M432 336.5h3M445 336.5h4M461 336.5h5M467 336.5h5M478 336.5h3M484 336.5h4M498 336.5h5M506 336.5h5M514 336.5h4M536 336.5h6M135 337.5h1M159 337.5h1M165 337.5h1M175 337.5h1M180 337.5h1M187 337.5h1M193 337.5h2M200 337.5h3M214 337.5h3M226 337.5h4M249 337.5h4M257 337.5h10M270 337.5h6M279 337.5h5M286 337.5h6M294 337.5h11M309 337.5h5M317 337.5h5M326 337.5h4M332 337.5h21M355 337.5h6M362 337.5h7M370 337.5h15M387 337.5h5M394 337.5h5M412 337.5h4M419 337.5h4M429 337.5h4M441 337.5h4M456 337.5h12M475 337.5h3M479 337.5h5M493 337.5h5M501 337.5h6M509 337.5h5M531 337.5h5M537 337.5h3M134 338.5h1M158 338.5h1M164 338.5h1M175 338.5h1M178 338.5h2M185 338.5h2M191 338.5h2M197 338.5h3M211 338.5h3M222 338.5h4M245 338.5h4M253 338.5h8M265 338.5h6M274 338.5h5M281 338.5h6M289 338.5h10M304 338.5h5M312 338.5h6M322 338.5h4M327 338.5h22M350 338.5h31M382 338.5h6M389 338.5h6M409 338.5h3M416 338.5h3M426 338.5h5M437 338.5h4M451 338.5h13M472 338.5h7M488 338.5h5M496 338.5h6M504 338.5h5M526 338.5h5M535 338.5h2M133 339.5h1M158 339.5h1M163 339.5h1M175 339.5h1M177 339.5h1M184 339.5h1M189 339.5h2M195 339.5h2M208 339.5h3M218 339.5h4M241 339.5h4M249 339.5h7M260 339.5h6M270 339.5h4M275 339.5h7M285 339.5h9M298 339.5h6M308 339.5h6M318 339.5h40M359 339.5h25M385 339.5h6M405 339.5h4M412 339.5h4M423 339.5h3M427 339.5h2M433 339.5h4M447 339.5h13M469 339.5h5M482 339.5h6M490 339.5h7M500 339.5h4M521 339.5h5M532 339.5h3M132 340.5h1M157 340.5h1M162 340.5h1M175 340.5h2M182 340.5h2M187 340.5h2M192 340.5h3M205 340.5h3M214 340.5h4M237 340.5h4M244 340.5h6M255 340.5h7M265 340.5h13M280 340.5h8M293 340.5h5M303 340.5h7M314 340.5h73M402 340.5h3M409 340.5h3M420 340.5h3M425 340.5h2M429 340.5h4M442 340.5h14M465 340.5h5M477 340.5h5M485 340.5h8M495 340.5h5M516 340.5h5M530 340.5h2M131 341.5h1M157 341.5h1M161 341.5h1M174 341.5h2M181 341.5h1M185 341.5h2M190 341.5h2M202 341.5h3M210 341.5h4M233 341.5h4M239 341.5h6M250 341.5h7M261 341.5h12M276 341.5h7M288 341.5h5M299 341.5h7M310 341.5h73M398 341.5h4M405 341.5h4M417 341.5h3M423 341.5h6M438 341.5h14M461 341.5h5M472 341.5h5M480 341.5h8M491 341.5h4M511 341.5h5M527 341.5h3M129 342.5h2M156 342.5h1M160 342.5h1M172 342.5h2M175 342.5h1M179 342.5h2M183 342.5h2M187 342.5h3M198 342.5h4M206 342.5h4M229 342.5h12M244 342.5h9M256 342.5h13M271 342.5h8M283 342.5h5M294 342.5h8M306 342.5h73M394 342.5h4M401 342.5h4M413 342.5h4M421 342.5h4M433 342.5h15M456 342.5h7M467 342.5h5M475 342.5h9M486 342.5h5M505 342.5h6M524 342.5h3M128 343.5h1M156 343.5h1M159 343.5h1M170 343.5h2M175 343.5h1M177 343.5h2M181 343.5h2M184 343.5h3M195 343.5h3M202 343.5h4M225 343.5h12M239 343.5h9M251 343.5h13M266 343.5h9M278 343.5h5M289 343.5h9M301 343.5h74M391 343.5h3M398 343.5h3M410 343.5h3M417 343.5h4M428 343.5h8M437 343.5h7M451 343.5h8M462 343.5h5M470 343.5h9M481 343.5h5M500 343.5h5M522 343.5h2M127 344.5h1M155 344.5h1M158 344.5h1M169 344.5h1M175 344.5h2M179 344.5h2M182 344.5h2M192 344.5h3M198 344.5h4M221 344.5h6M229 344.5h4M234 344.5h9M247 344.5h12M260 344.5h6M267 344.5h4M273 344.5h5M285 344.5h4M290 344.5h4M296 344.5h16M313 344.5h53M367 344.5h4M387 344.5h4M394 344.5h4M407 344.5h3M413 344.5h6M424 344.5h7M433 344.5h7M447 344.5h4M453 344.5h3M457 344.5h5M465 344.5h9M477 344.5h4M495 344.5h5M519 344.5h3M126 345.5h1M155 345.5h1M157 345.5h1M167 345.5h2M174 345.5h2M177 345.5h5M189 345.5h3M194 345.5h4M216 345.5h6M225 345.5h14M242 345.5h20M263 345.5h4M268 345.5h5M280 345.5h5M286 345.5h4M291 345.5h17M309 345.5h53M363 345.5h4M384 345.5h3M391 345.5h3M404 345.5h3M409 345.5h4M415 345.5h2M419 345.5h7M430 345.5h6M442 345.5h5M450 345.5h7M460 345.5h10M472 345.5h5M490 345.5h5M517 345.5h2M125 346.5h1M154 346.5h1M156 346.5h1M166 346.5h1M173 346.5h1M175 346.5h4M186 346.5h3M190 346.5h4M210 346.5h7M221 346.5h8M230 346.5h4M238 346.5h7M246 346.5h11M259 346.5h9M276 346.5h4M282 346.5h21M305 346.5h52M359 346.5h4M380 346.5h4M387 346.5h4M401 346.5h3M405 346.5h4M413 346.5h8M426 346.5h6M438 346.5h4M446 346.5h6M454 346.5h6M461 346.5h4M468 346.5h4M485 346.5h5M514 346.5h3M124 347.5h1M154 347.5h2M164 347.5h2M171 347.5h6M183 347.5h7M205 347.5h8M217 347.5h7M225 347.5h5M233 347.5h6M241 347.5h12M255 347.5h7M271 347.5h5M278 347.5h7M286 347.5h13M301 347.5h52M355 347.5h4M376 347.5h4M383 347.5h4M398 347.5h7M410 347.5h6M422 347.5h6M433 347.5h5M441 347.5h6M449 347.5h5M456 347.5h5M463 347.5h5M480 347.5h5M512 347.5h2M123 348.5h1M153 348.5h2M163 348.5h1M170 348.5h4M175 348.5h1M180 348.5h6M199 348.5h10M213 348.5h6M220 348.5h5M228 348.5h6M236 348.5h12M251 348.5h6M266 348.5h5M274 348.5h6M282 348.5h12M297 348.5h14M312 348.5h14M327 348.5h6M334 348.5h6M342 348.5h6M351 348.5h4M373 348.5h3M380 348.5h3M395 348.5h6M405 348.5h6M419 348.5h5M428 348.5h5M436 348.5h13M451 348.5h5M458 348.5h5M475 348.5h5M509 348.5h3M122 349.5h1M153 349.5h1M161 349.5h2M168 349.5h3M175 349.5h1M177 349.5h5M193 349.5h6M201 349.5h4M209 349.5h5M216 349.5h4M224 349.5h5M232 349.5h6M239 349.5h4M247 349.5h5M262 349.5h4M270 349.5h5M278 349.5h6M285 349.5h4M293 349.5h5M300 349.5h6M308 349.5h6M316 349.5h5M323 349.5h5M330 349.5h5M338 349.5h5M347 349.5h4M369 349.5h4M376 349.5h4M392 349.5h5M401 349.5h5M407 349.5h2M415 349.5h5M424 349.5h4M431 349.5h5M438 349.5h6M447 349.5h4M454 349.5h4M470 349.5h5M507 349.5h2M121 350.5h1M152 350.5h1M160 350.5h1M166 350.5h3M174 350.5h4M189 350.5h4M196 350.5h5M204 350.5h5M211 350.5h5M219 350.5h5M227 350.5h5M233 350.5h6M241 350.5h6M255 350.5h7M263 350.5h7M271 350.5h14M286 350.5h53M343 350.5h4M364 350.5h5M371 350.5h5M382 350.5h25M410 350.5h14M425 350.5h14M440 350.5h14M462 350.5h8M498 350.5h9M119 351.5h2M150 351.5h2M159 351.5h1M164 351.5h3M172 351.5h2M186 351.5h3M192 351.5h5M200 351.5h4M207 351.5h4M214 351.5h5M221 351.5h12M234 351.5h7M247 351.5h88M339 351.5h4M357 351.5h44M402 351.5h14M417 351.5h29M451 351.5h11M484 351.5h14M118 352.5h1M149 352.5h3M158 352.5h1M162 352.5h3M169 352.5h3M183 352.5h3M188 352.5h5M195 352.5h5M202 352.5h5M209 352.5h5M215 352.5h19M239 352.5h78M320 352.5h3M326 352.5h5M335 352.5h5M348 352.5h17M371 352.5h22M394 352.5h11M408 352.5h26M440 352.5h11M470 352.5h14M116 353.5h2M147 353.5h4M157 353.5h1M160 353.5h4M167 353.5h3M180 353.5h3M184 353.5h5M190 353.5h6M197 353.5h5M204 353.5h5M210 353.5h18M231 353.5h73M307 353.5h4M316 353.5h4M322 353.5h5M331 353.5h18M350 353.5h7M361 353.5h11M373 353.5h21M397 353.5h27M430 353.5h10M455 353.5h15M115 354.5h1M146 354.5h1M148 354.5h1M150 354.5h1M156 354.5h1M158 354.5h2M161 354.5h1M164 354.5h4M177 354.5h15M193 354.5h4M198 354.5h23M223 354.5h73M303 354.5h4M313 354.5h21M335 354.5h30M366 354.5h50M419 354.5h11M441 354.5h14M113 355.5h2M144 355.5h2M147 355.5h1M149 355.5h1M155 355.5h3M159 355.5h2M162 355.5h4M174 355.5h40M215 355.5h75M298 355.5h22M325 355.5h25M351 355.5h7M359 355.5h60M427 355.5h14M112 356.5h1M143 356.5h1M146 356.5h1M149 356.5h1M154 356.5h2M158 356.5h6M171 356.5h96M269 356.5h30M306 356.5h3M310 356.5h7M321 356.5h18M344 356.5h18M363 356.5h45M412 356.5h15M110 357.5h2M141 357.5h2M145 357.5h1M148 357.5h1M152 357.5h2M156 357.5h3M160 357.5h2M167 357.5h95M263 357.5h18M290 357.5h5M302 357.5h26M336 357.5h61M398 357.5h14M108 358.5h2M139 358.5h2M144 358.5h1M148 358.5h1M150 358.5h2M154 358.5h2M158 358.5h2M164 358.5h111M286 358.5h4M298 358.5h23M329 358.5h69M107 359.5h1M138 359.5h1M143 359.5h1M147 359.5h7M156 359.5h2M160 359.5h90M252 359.5h19M282 359.5h4M295 359.5h19M315 359.5h3M319 359.5h33M354 359.5h30M105 360.5h2M136 360.5h2M142 360.5h1M146 360.5h2M149 360.5h4M154 360.5h84M239 360.5h6M247 360.5h20M278 360.5h4M285 360.5h56M345 360.5h24M104 361.5h1M135 361.5h1M141 361.5h1M144 361.5h5M150 361.5h1M152 361.5h80M233 361.5h6M241 361.5h11M253 361.5h10M274 361.5h59M336 361.5h22M102 362.5h2M133 362.5h2M140 362.5h1M142 362.5h84M228 362.5h5M235 362.5h12M248 362.5h6M255 362.5h4M263 362.5h11M277 362.5h40M318 362.5h7M326 362.5h24M101 363.5h1M132 363.5h1M139 363.5h81M222 363.5h6M230 363.5h5M236 363.5h6M243 363.5h6M251 363.5h12M266 363.5h42M310 363.5h32M99 364.5h2M130 364.5h2M138 364.5h26M171 364.5h29M201 364.5h14M216 364.5h6M224 364.5h6M232 364.5h5M239 364.5h14M262 364.5h72M98 365.5h1M129 365.5h1M137 365.5h14M167 365.5h5M175 365.5h4M183 365.5h4M190 365.5h4M198 365.5h4M206 365.5h3M213 365.5h3M221 365.5h3M229 365.5h3M236 365.5h6M244 365.5h3M259 365.5h6M267 365.5h6M275 365.5h6M282 365.5h5M290 365.5h12M305 365.5h6M313 365.5h5M321 365.5h5"/>
</g>
<g fill="none" stroke="#000" stroke-width="1" shape-rendering="crispEdges">
<rect x="65.5" y="65.5" width="550" height="310"/>
<line x1="128.5" y1="375" x2="128.5" y2="370"/>
<line x1="128.5" y1="65" x2="128.5" y2="71"/>
<line x1="181.5" y1="375" x2="181.5" y2="365"/>
<line x1="181.5" y1="65" x2="181.5" y2="76"/>
<line x1="234.5" y1="375" x2="234.5" y2="370"/>
<line x1="234.5" y1="65" x2="234.5" y2="71"/>
<line x1="287.5" y1="375" x2="287.5" y2="365"/>
<line x1="287.5" y1="65" x2="287.5" y2="76"/>
<line x1="340.5" y1="375" x2="340.5" y2="370"/>
<line x1="340.5" y1="65" x2="340.5" y2="71"/>
<line x1="393.5" y1="375" x2="393.5" y2="365"/>
<line x1="393.5" y1="65" x2="393.5" y2="76"/>
<line x1="446.5" y1="375" x2="446.5" y2="370"/>
<line x1="446.5" y1="65" x2="446.5" y2="71"/>
<line x1="499.5" y1="375" x2="499.5" y2="365"/>
<line x1="499.5" y1="65" x2="499.5" y2="76"/>
<line x1="552.5" y1="375" x2="552.5" y2="370"/>
<line x1="552.5" y1="65" x2="552.5" y2="71"/>
<line x1="605.5" y1="375" x2="605.5" y2="365"/>
<line x1="605.5" y1="65" x2="605.5" y2="76"/>
<line x1="65" y1="336.5" x2="71" y2="336.5"/>
<line x1="616" y1="336.5" x2="610" y2="336.5"/>
<line x1="65" y1="307.5" x2="71" y2="307.5"/>
<line x1="616" y1="307.5" x2="610" y2="307.5"/>
<line x1="65" y1="278.5" x2="71" y2="278.5"/>
<line x1="616" y1="278.5" x2="610" y2="278.5"/>
<line x1="65" y1="249.5" x2="71" y2="249.5"/>
<line x1="616" y1="249.5" x2="610" y2="249.5"/>
<line x1="65" y1="220.5" x2="76" y2="220.5"/>
<line x1="616" y1="220.5" x2="605" y2="220.5"/>
<line x1="65" y1="191.5" x2="71" y2="191.5"/>
<line x1="616" y1="191.5" x2="610" y2="191.5"/>
<line x1="65" y1="162.5" x2="71" y2="162.5"/>
<line x1="616" y1="162.5" x2="610" y2="162.5"/>
<line x1="65" y1="133.5" x2="71" y2="133.5"/>
<line x1="616" y1="133.5" x2="610" y2="133.5"/>
<line x1="65" y1="104.5" x2="71" y2="104.5"/>
<line x1="616" y1="104.5" x2="610" y2="104.5"/>
<line x1="65" y1="75.5" x2="76" y2="75.5"/>
<line x1="616" y1="75.5" x2="605" y2="75.5"/>
</g>
</svg>
<div id="txt">
<div class="t" style="transform:translate(309.5px,20px) scale(1,0.83);">T0974s1-D1</div>
<div class="t" style="transform:translate(219.5px,411px) scale(1,0.83);">Percent of Residues (CA)</div>
<div class="t" style="transform:translate(20.5px,320.5px) rotate(-90deg) scale(1,0.83);">Distance Cutoff, A</div>
<div class="t" style="transform:translate(59.5px,385px) scale(1,0.83);">0</div>
<div class="t" style="transform:translate(170.5px,385px) scale(1,0.83);">20</div>
<div class="t" style="transform:translate(276.5px,385px) scale(1,0.83);">40</div>
<div class="t" style="transform:translate(382.5px,385px) scale(1,0.83);">60</div>
<div class="t" style="transform:translate(488.5px,385px) scale(1,0.83);">80</div>
<div class="t" style="transform:translate(594.5px,385px) scale(1,0.83);">100</div>
<div class="t" style="transform:translate(45.5px,380px) rotate(-90deg) scale(1,0.83);">0</div>
<div class="t" style="transform:translate(45.5px,225px) rotate(-90deg) scale(1,0.83);">5</div>
<div class="t" style="transform:translate(45.5px,75.5px) rotate(-90deg) scale(1,0.83);">10</div>
</div>
</body></html>
